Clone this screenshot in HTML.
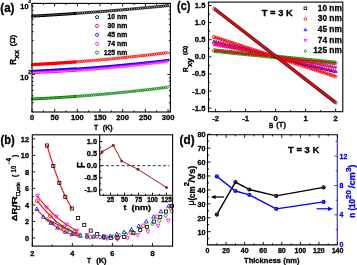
<!DOCTYPE html>
<html><head><meta charset="utf-8"><style>
html,body{margin:0;padding:0;background:#fff;width:357px;height:265px;overflow:hidden;}
svg{display:block;will-change:transform;}
</style></head><body>
<svg width="357" height="265" viewBox="0 0 357 265" font-family='"Liberation Sans", sans-serif'>
<rect width="357" height="265" fill="#fff"/>
<path d="M32.6 16.13 L33.1 16.1 L33.6 16.08 L34.1 16.05 L34.6 16.02 L35.1 15.99 L35.6 15.96 L36.1 15.93 L36.6 15.91 L37.1 15.88 L37.6 15.85 L38.1 15.82 L38.6 15.79 L39.1 15.76 L39.6 15.73 L40.1 15.7 L40.6 15.67 L41.1 15.65 L41.6 15.62 L42.1 15.59 L42.6 15.56 L43.1 15.53 L43.6 15.5 L44.1 15.47 L44.6 15.44 L45.1 15.41 L45.6 15.38 L46.1 15.35 L46.6 15.32 L47.1 15.29 L47.6 15.26 L48.1 15.23 L48.6 15.2 L49.1 15.17 L49.6 15.14 L50.1 15.11 L50.6 15.07 L51.1 15.04 L51.6 15.01 L52.1 14.98 L52.6 14.95 L53.1 14.92 L53.6 14.89 L54.1 14.86 L54.6 14.83 L55.1 14.79 L55.6 14.76 L56.1 14.73 L56.6 14.7 L57.1 14.67 L57.6 14.64 L58.1 14.6 L58.6 14.57 L59.1 14.54 L59.6 14.51 L60.1 14.47 L60.6 14.44 L61.1 14.41 L61.6 14.38 L62.1 14.34 L62.6 14.31 L63.1 14.28 L63.6 14.25 L64.1 14.21 L64.6 14.18 L65.1 14.15 L65.6 14.11 L66.1 14.08 L66.6 14.05 L67.1 14.01 L67.6 13.98 L68.1 13.95 L68.6 13.91 L69.1 13.88 L69.6 13.85 L70.1 13.81 L70.6 13.78 L71.1 13.74 L71.6 13.71 L72.1 13.68 L72.6 13.64 L73.1 13.61 L73.6 13.57 L74.1 13.54 L74.6 13.5 L75.1 13.47" fill="none" stroke="#000" stroke-width="2.9" stroke-linejoin="round" stroke-linecap="round"/>
<path d="M32.6 16.13 L33.1 16.1 L33.6 16.08 L34.1 16.05 L34.6 16.02 L35.1 15.99 L35.6 15.96 L36.1 15.93 L36.6 15.91 L37.1 15.88 L37.6 15.85 L38.1 15.82 L38.6 15.79 L39.1 15.76 L39.6 15.73 L40.1 15.7 L40.6 15.67 L41.1 15.65 L41.6 15.62 L42.1 15.59 L42.6 15.56 L43.1 15.53 L43.6 15.5 L44.1 15.47 L44.6 15.44 L45.1 15.41 L45.6 15.38 L46.1 15.35 L46.6 15.32 L47.1 15.29 L47.6 15.26 L48.1 15.23 L48.6 15.2 L49.1 15.17 L49.6 15.14 L50.1 15.11 L50.6 15.07 L51.1 15.04 L51.6 15.01 L52.1 14.98 L52.6 14.95 L53.1 14.92 L53.6 14.89 L54.1 14.86 L54.6 14.83 L55.1 14.79 L55.6 14.76 L56.1 14.73 L56.6 14.7 L57.1 14.67 L57.6 14.64 L58.1 14.6 L58.6 14.57 L59.1 14.54 L59.6 14.51 L60.1 14.47 L60.6 14.44 L61.1 14.41 L61.6 14.38 L62.1 14.34 L62.6 14.31 L63.1 14.28 L63.6 14.25 L64.1 14.21 L64.6 14.18 L65.1 14.15 L65.6 14.11 L66.1 14.08 L66.6 14.05 L67.1 14.01 L67.6 13.98 L68.1 13.95 L68.6 13.91 L69.1 13.88 L69.6 13.85 L70.1 13.81 L70.6 13.78 L71.1 13.74 L71.6 13.71 L72.1 13.68 L72.6 13.64 L73.1 13.61 L73.6 13.57 L74.1 13.54 L74.6 13.5 L75.1 13.47" fill="none" stroke="#777" stroke-width="0.7" stroke-linejoin="round" stroke-linecap="round"/>
<circle cx="75.5" cy="13.44" r="1.15" fill="none" stroke="#000" stroke-width="0.8"/>
<circle cx="77.3" cy="13.31" r="1.15" fill="none" stroke="#000" stroke-width="0.8"/>
<circle cx="79.1" cy="13.19" r="1.15" fill="none" stroke="#000" stroke-width="0.8"/>
<circle cx="80.9" cy="13.06" r="1.15" fill="none" stroke="#000" stroke-width="0.8"/>
<circle cx="82.7" cy="12.93" r="1.15" fill="none" stroke="#000" stroke-width="0.8"/>
<circle cx="84.5" cy="12.8" r="1.15" fill="none" stroke="#000" stroke-width="0.8"/>
<circle cx="86.3" cy="12.67" r="1.15" fill="none" stroke="#000" stroke-width="0.8"/>
<circle cx="88.1" cy="12.54" r="1.15" fill="none" stroke="#000" stroke-width="0.8"/>
<circle cx="89.9" cy="12.4" r="1.15" fill="none" stroke="#000" stroke-width="0.8"/>
<circle cx="91.7" cy="12.27" r="1.15" fill="none" stroke="#000" stroke-width="0.8"/>
<circle cx="93.5" cy="12.13" r="1.15" fill="none" stroke="#000" stroke-width="0.8"/>
<circle cx="95.3" cy="12" r="1.15" fill="none" stroke="#000" stroke-width="0.8"/>
<circle cx="97.1" cy="11.86" r="1.15" fill="none" stroke="#000" stroke-width="0.8"/>
<circle cx="98.9" cy="11.72" r="1.15" fill="none" stroke="#000" stroke-width="0.8"/>
<circle cx="100.7" cy="11.58" r="1.15" fill="none" stroke="#000" stroke-width="0.8"/>
<circle cx="102.5" cy="11.44" r="1.15" fill="none" stroke="#000" stroke-width="0.8"/>
<circle cx="104.3" cy="11.3" r="1.15" fill="none" stroke="#000" stroke-width="0.8"/>
<circle cx="106.1" cy="11.16" r="1.15" fill="none" stroke="#000" stroke-width="0.8"/>
<circle cx="107.9" cy="11.01" r="1.15" fill="none" stroke="#000" stroke-width="0.8"/>
<circle cx="109.7" cy="10.87" r="1.15" fill="none" stroke="#000" stroke-width="0.8"/>
<circle cx="111.5" cy="10.72" r="1.15" fill="none" stroke="#000" stroke-width="0.8"/>
<circle cx="113.3" cy="10.57" r="1.15" fill="none" stroke="#000" stroke-width="0.8"/>
<circle cx="115.1" cy="10.43" r="1.15" fill="none" stroke="#000" stroke-width="0.8"/>
<circle cx="116.9" cy="10.28" r="1.15" fill="none" stroke="#000" stroke-width="0.8"/>
<circle cx="118.7" cy="10.13" r="1.15" fill="none" stroke="#000" stroke-width="0.8"/>
<circle cx="120.5" cy="9.98" r="1.15" fill="none" stroke="#000" stroke-width="0.8"/>
<circle cx="122.3" cy="9.82" r="1.15" fill="none" stroke="#000" stroke-width="0.8"/>
<circle cx="124.1" cy="9.67" r="1.15" fill="none" stroke="#000" stroke-width="0.8"/>
<circle cx="125.9" cy="9.52" r="1.15" fill="none" stroke="#000" stroke-width="0.8"/>
<circle cx="127.7" cy="9.36" r="1.15" fill="none" stroke="#000" stroke-width="0.8"/>
<circle cx="129.5" cy="9.2" r="1.15" fill="none" stroke="#000" stroke-width="0.8"/>
<circle cx="131.3" cy="9.05" r="1.15" fill="none" stroke="#000" stroke-width="0.8"/>
<circle cx="133.1" cy="8.89" r="1.15" fill="none" stroke="#000" stroke-width="0.8"/>
<circle cx="134.9" cy="8.73" r="1.15" fill="none" stroke="#000" stroke-width="0.8"/>
<circle cx="136.7" cy="8.57" r="1.15" fill="none" stroke="#000" stroke-width="0.8"/>
<circle cx="138.5" cy="8.41" r="1.15" fill="none" stroke="#000" stroke-width="0.8"/>
<circle cx="140.3" cy="8.24" r="1.15" fill="none" stroke="#000" stroke-width="0.8"/>
<circle cx="142.1" cy="8.08" r="1.15" fill="none" stroke="#000" stroke-width="0.8"/>
<circle cx="143.9" cy="7.92" r="1.15" fill="none" stroke="#000" stroke-width="0.8"/>
<circle cx="145.7" cy="7.75" r="1.15" fill="none" stroke="#000" stroke-width="0.8"/>
<circle cx="147.5" cy="7.58" r="1.15" fill="none" stroke="#000" stroke-width="0.8"/>
<circle cx="149.3" cy="7.42" r="1.15" fill="none" stroke="#000" stroke-width="0.8"/>
<circle cx="151.1" cy="7.25" r="1.15" fill="none" stroke="#000" stroke-width="0.8"/>
<circle cx="152.9" cy="7.08" r="1.15" fill="none" stroke="#000" stroke-width="0.8"/>
<circle cx="154.7" cy="6.9" r="1.15" fill="none" stroke="#000" stroke-width="0.8"/>
<circle cx="156.5" cy="6.73" r="1.15" fill="none" stroke="#000" stroke-width="0.8"/>
<circle cx="158.3" cy="6.56" r="1.15" fill="none" stroke="#000" stroke-width="0.8"/>
<circle cx="160.1" cy="6.39" r="1.15" fill="none" stroke="#000" stroke-width="0.8"/>
<circle cx="161.9" cy="6.21" r="1.15" fill="none" stroke="#000" stroke-width="0.8"/>
<circle cx="163.7" cy="6.03" r="1.15" fill="none" stroke="#000" stroke-width="0.8"/>
<circle cx="165.5" cy="5.86" r="1.15" fill="none" stroke="#000" stroke-width="0.8"/>
<circle cx="167.3" cy="5.68" r="1.15" fill="none" stroke="#000" stroke-width="0.8"/>
<path d="M32.6 64.62 L33.1 64.59 L33.6 64.56 L34.1 64.54 L34.6 64.51 L35.1 64.49 L35.6 64.46 L36.1 64.43 L36.6 64.41 L37.1 64.38 L37.6 64.35 L38.1 64.33 L38.6 64.3 L39.1 64.27 L39.6 64.24 L40.1 64.22 L40.6 64.19 L41.1 64.16 L41.6 64.13 L42.1 64.11 L42.6 64.08 L43.1 64.05 L43.6 64.02 L44.1 63.99 L44.6 63.96 L45.1 63.93 L45.6 63.9 L46.1 63.88 L46.6 63.85 L47.1 63.82 L47.6 63.79 L48.1 63.76 L48.6 63.73 L49.1 63.7 L49.6 63.67 L50.1 63.64 L50.6 63.61 L51.1 63.58 L51.6 63.54 L52.1 63.51 L52.6 63.48 L53.1 63.45 L53.6 63.42 L54.1 63.39 L54.6 63.36 L55.1 63.33 L55.6 63.29 L56.1 63.26 L56.6 63.23 L57.1 63.2 L57.6 63.16 L58.1 63.13 L58.6 63.1 L59.1 63.07 L59.6 63.03 L60.1 63 L60.6 62.97 L61.1 62.93 L61.6 62.9 L62.1 62.87 L62.6 62.83 L63.1 62.8 L63.6 62.76 L64.1 62.73 L64.6 62.7 L65.1 62.66 L65.6 62.63 L66.1 62.59 L66.6 62.56 L67.1 62.52 L67.6 62.49 L68.1 62.45 L68.6 62.42 L69.1 62.38 L69.6 62.34 L70.1 62.31 L70.6 62.27 L71.1 62.24 L71.6 62.2 L72.1 62.16 L72.6 62.13 L73.1 62.09 L73.6 62.05 L74.1 62.02 L74.6 61.98 L75.1 61.94" fill="none" stroke="#ff0000" stroke-width="3.3" stroke-linejoin="round" stroke-linecap="round"/>
<circle cx="75.5" cy="61.91" r="1.15" fill="none" stroke="#ff0000" stroke-width="0.8"/>
<circle cx="77.3" cy="61.78" r="1.15" fill="none" stroke="#ff0000" stroke-width="0.8"/>
<circle cx="79.1" cy="61.64" r="1.15" fill="none" stroke="#ff0000" stroke-width="0.8"/>
<circle cx="80.9" cy="61.5" r="1.15" fill="none" stroke="#ff0000" stroke-width="0.8"/>
<circle cx="82.7" cy="61.36" r="1.15" fill="none" stroke="#ff0000" stroke-width="0.8"/>
<circle cx="84.5" cy="61.21" r="1.15" fill="none" stroke="#ff0000" stroke-width="0.8"/>
<circle cx="86.3" cy="61.07" r="1.15" fill="none" stroke="#ff0000" stroke-width="0.8"/>
<circle cx="88.1" cy="60.92" r="1.15" fill="none" stroke="#ff0000" stroke-width="0.8"/>
<circle cx="89.9" cy="60.78" r="1.15" fill="none" stroke="#ff0000" stroke-width="0.8"/>
<circle cx="91.7" cy="60.62" r="1.15" fill="none" stroke="#ff0000" stroke-width="0.8"/>
<circle cx="93.5" cy="60.47" r="1.15" fill="none" stroke="#ff0000" stroke-width="0.8"/>
<circle cx="95.3" cy="60.32" r="1.15" fill="none" stroke="#ff0000" stroke-width="0.8"/>
<circle cx="97.1" cy="60.16" r="1.15" fill="none" stroke="#ff0000" stroke-width="0.8"/>
<circle cx="98.9" cy="60.01" r="1.15" fill="none" stroke="#ff0000" stroke-width="0.8"/>
<circle cx="100.7" cy="59.85" r="1.15" fill="none" stroke="#ff0000" stroke-width="0.8"/>
<circle cx="102.5" cy="59.69" r="1.15" fill="none" stroke="#ff0000" stroke-width="0.8"/>
<circle cx="104.3" cy="59.52" r="1.15" fill="none" stroke="#ff0000" stroke-width="0.8"/>
<circle cx="106.1" cy="59.36" r="1.15" fill="none" stroke="#ff0000" stroke-width="0.8"/>
<circle cx="107.9" cy="59.19" r="1.15" fill="none" stroke="#ff0000" stroke-width="0.8"/>
<circle cx="109.7" cy="59.02" r="1.15" fill="none" stroke="#ff0000" stroke-width="0.8"/>
<circle cx="111.5" cy="58.85" r="1.15" fill="none" stroke="#ff0000" stroke-width="0.8"/>
<circle cx="113.3" cy="58.68" r="1.15" fill="none" stroke="#ff0000" stroke-width="0.8"/>
<circle cx="115.1" cy="58.51" r="1.15" fill="none" stroke="#ff0000" stroke-width="0.8"/>
<circle cx="116.9" cy="58.33" r="1.15" fill="none" stroke="#ff0000" stroke-width="0.8"/>
<circle cx="118.7" cy="58.16" r="1.15" fill="none" stroke="#ff0000" stroke-width="0.8"/>
<circle cx="120.5" cy="57.98" r="1.15" fill="none" stroke="#ff0000" stroke-width="0.8"/>
<circle cx="122.3" cy="57.8" r="1.15" fill="none" stroke="#ff0000" stroke-width="0.8"/>
<circle cx="124.1" cy="57.61" r="1.15" fill="none" stroke="#ff0000" stroke-width="0.8"/>
<circle cx="125.9" cy="57.43" r="1.15" fill="none" stroke="#ff0000" stroke-width="0.8"/>
<circle cx="127.7" cy="57.24" r="1.15" fill="none" stroke="#ff0000" stroke-width="0.8"/>
<circle cx="129.5" cy="57.05" r="1.15" fill="none" stroke="#ff0000" stroke-width="0.8"/>
<circle cx="131.3" cy="56.86" r="1.15" fill="none" stroke="#ff0000" stroke-width="0.8"/>
<circle cx="133.1" cy="56.67" r="1.15" fill="none" stroke="#ff0000" stroke-width="0.8"/>
<circle cx="134.9" cy="56.48" r="1.15" fill="none" stroke="#ff0000" stroke-width="0.8"/>
<circle cx="136.7" cy="56.28" r="1.15" fill="none" stroke="#ff0000" stroke-width="0.8"/>
<circle cx="138.5" cy="56.09" r="1.15" fill="none" stroke="#ff0000" stroke-width="0.8"/>
<circle cx="140.3" cy="55.89" r="1.15" fill="none" stroke="#ff0000" stroke-width="0.8"/>
<circle cx="142.1" cy="55.69" r="1.15" fill="none" stroke="#ff0000" stroke-width="0.8"/>
<circle cx="143.9" cy="55.49" r="1.15" fill="none" stroke="#ff0000" stroke-width="0.8"/>
<circle cx="145.7" cy="55.28" r="1.15" fill="none" stroke="#ff0000" stroke-width="0.8"/>
<circle cx="147.5" cy="55.08" r="1.15" fill="none" stroke="#ff0000" stroke-width="0.8"/>
<circle cx="149.3" cy="54.87" r="1.15" fill="none" stroke="#ff0000" stroke-width="0.8"/>
<circle cx="151.1" cy="54.66" r="1.15" fill="none" stroke="#ff0000" stroke-width="0.8"/>
<circle cx="152.9" cy="54.45" r="1.15" fill="none" stroke="#ff0000" stroke-width="0.8"/>
<circle cx="154.7" cy="54.23" r="1.15" fill="none" stroke="#ff0000" stroke-width="0.8"/>
<circle cx="156.5" cy="54.02" r="1.15" fill="none" stroke="#ff0000" stroke-width="0.8"/>
<circle cx="158.3" cy="53.8" r="1.15" fill="none" stroke="#ff0000" stroke-width="0.8"/>
<circle cx="160.1" cy="53.58" r="1.15" fill="none" stroke="#ff0000" stroke-width="0.8"/>
<circle cx="161.9" cy="53.36" r="1.15" fill="none" stroke="#ff0000" stroke-width="0.8"/>
<circle cx="163.7" cy="53.14" r="1.15" fill="none" stroke="#ff0000" stroke-width="0.8"/>
<circle cx="165.5" cy="52.92" r="1.15" fill="none" stroke="#ff0000" stroke-width="0.8"/>
<circle cx="167.3" cy="52.69" r="1.15" fill="none" stroke="#ff0000" stroke-width="0.8"/>
<path d="M32.6 71.26 L33.1 71.23 L33.6 71.21 L34.1 71.18 L34.6 71.16 L35.1 71.14 L35.6 71.11 L36.1 71.09 L36.6 71.06 L37.1 71.04 L37.6 71.01 L38.1 70.99 L38.6 70.96 L39.1 70.94 L39.6 70.91 L40.1 70.89 L40.6 70.86 L41.1 70.83 L41.6 70.81 L42.1 70.78 L42.6 70.76 L43.1 70.73 L43.6 70.7 L44.1 70.68 L44.6 70.65 L45.1 70.62 L45.6 70.6 L46.1 70.57 L46.6 70.54 L47.1 70.51 L47.6 70.49 L48.1 70.46 L48.6 70.43 L49.1 70.4 L49.6 70.37 L50.1 70.35 L50.6 70.32 L51.1 70.29 L51.6 70.26 L52.1 70.23 L52.6 70.2 L53.1 70.17 L53.6 70.14 L54.1 70.12 L54.6 70.09 L55.1 70.06 L55.6 70.03 L56.1 70 L56.6 69.97 L57.1 69.94 L57.6 69.91 L58.1 69.88 L58.6 69.85 L59.1 69.82 L59.6 69.79 L60.1 69.75 L60.6 69.72 L61.1 69.69 L61.6 69.66 L62.1 69.63 L62.6 69.6 L63.1 69.57 L63.6 69.53 L64.1 69.5 L64.6 69.47 L65.1 69.44 L65.6 69.41 L66.1 69.37 L66.6 69.34 L67.1 69.31 L67.6 69.28 L68.1 69.24 L68.6 69.21 L69.1 69.18 L69.6 69.14 L70.1 69.11 L70.6 69.08 L71.1 69.04 L71.6 69.01 L72.1 68.97 L72.6 68.94 L73.1 68.91 L73.6 68.87 L74.1 68.84 L74.6 68.8 L75.1 68.77" fill="none" stroke="#0000ff" stroke-width="2.9" stroke-linejoin="round" stroke-linecap="round"/>
<path d="M75 68.78 L75.5 68.74 L76 68.71 L76.5 68.67 L77 68.63 L77.5 68.6 L78 68.56 L78.5 68.53 L79 68.49 L79.5 68.46 L80 68.42 L80.5 68.38 L81 68.35 L81.5 68.31 L82 68.27 L82.5 68.24 L83 68.2 L83.5 68.16 L84 68.13 L84.5 68.09 L85 68.05 L85.5 68.02 L86 67.98 L86.5 67.94 L87 67.9 L87.5 67.86 L88 67.83 L88.5 67.79 L89 67.75 L89.5 67.71 L90 67.67 L90.5 67.63 L91 67.59 L91.5 67.56 L92 67.52 L92.5 67.48 L93 67.44 L93.5 67.4 L94 67.36 L94.5 67.32 L95 67.28 L95.5 67.24 L96 67.2 L96.5 67.16 L97 67.12 L97.5 67.08 L98 67.04 L98.5 66.99 L99 66.95 L99.5 66.91 L100 66.87 L100.5 66.83 L101 66.79 L101.5 66.75 L102 66.7 L102.5 66.66 L103 66.62 L103.5 66.58 L104 66.54 L104.5 66.49 L105 66.45 L105.5 66.41 L106 66.37 L106.5 66.32 L107 66.28 L107.5 66.24 L108 66.19 L108.5 66.15 L109 66.11 L109.5 66.06 L110 66.02 L110.5 65.97 L111 65.93 L111.5 65.88 L112 65.84 L112.5 65.8 L113 65.75 L113.5 65.71 L114 65.66 L114.5 65.62 L115 65.57 L115.5 65.53 L116 65.48 L116.5 65.43 L117 65.39 L117.5 65.34 L118 65.3 L118.5 65.25 L119 65.2 L119.5 65.16 L120 65.11 L120.5 65.06 L121 65.02 L121.5 64.97 L122 64.92 L122.5 64.88 L123 64.83 L123.5 64.78 L124 64.73 L124.5 64.69 L125 64.64 L125.5 64.59 L126 64.54 L126.5 64.49 L127 64.45 L127.5 64.4 L128 64.35 L128.5 64.3 L129 64.25 L129.5 64.2 L130 64.15 L130.5 64.1 L131 64.05 L131.5 64 L132 63.96 L132.5 63.91 L133 63.86 L133.5 63.81 L134 63.76 L134.5 63.7 L135 63.65 L135.5 63.6 L136 63.55 L136.5 63.5 L137 63.45 L137.5 63.4 L138 63.35 L138.5 63.3 L139 63.25 L139.5 63.19 L140 63.14 L140.5 63.09 L141 63.04 L141.5 62.99 L142 62.93 L142.5 62.88 L143 62.83 L143.5 62.78 L144 62.72 L144.5 62.67 L145 62.62 L145.5 62.56 L146 62.51 L146.5 62.46 L147 62.4 L147.5 62.35 L148 62.3 L148.5 62.24 L149 62.19 L149.5 62.13 L150 62.08 L150.5 62.02 L151 61.97 L151.5 61.92 L152 61.86 L152.5 61.81 L153 61.75 L153.5 61.69 L154 61.64 L154.5 61.58 L155 61.53 L155.5 61.47 L156 61.42 L156.5 61.36 L157 61.3 L157.5 61.25 L158 61.19 L158.5 61.13 L159 61.08 L159.5 61.02 L160 60.96 L160.5 60.91 L161 60.85 L161.5 60.79 L162 60.73 L162.5 60.68 L163 60.62 L163.5 60.56 L164 60.5 L164.5 60.44 L165 60.39 L165.5 60.33 L166 60.27 L166.5 60.21 L167 60.15 L167.5 60.09 L168 60.03 L168.5 59.97" fill="none" stroke="#0000ff" stroke-width="2.2" stroke-linejoin="round" stroke-linecap="round"/>
<path d="M32.6 72.68 L33.1 72.66 L33.6 72.64 L34.1 72.62 L34.6 72.6 L35.1 72.58 L35.6 72.56 L36.1 72.54 L36.6 72.52 L37.1 72.49 L37.6 72.47 L38.1 72.45 L38.6 72.43 L39.1 72.41 L39.6 72.38 L40.1 72.36 L40.6 72.34 L41.1 72.31 L41.6 72.29 L42.1 72.27 L42.6 72.24 L43.1 72.22 L43.6 72.2 L44.1 72.17 L44.6 72.15 L45.1 72.12 L45.6 72.1 L46.1 72.08 L46.6 72.05 L47.1 72.03 L47.6 72 L48.1 71.98 L48.6 71.95 L49.1 71.92 L49.6 71.9 L50.1 71.87 L50.6 71.85 L51.1 71.82 L51.6 71.79 L52.1 71.77 L52.6 71.74 L53.1 71.71 L53.6 71.69 L54.1 71.66 L54.6 71.63 L55.1 71.61 L55.6 71.58 L56.1 71.55 L56.6 71.52 L57.1 71.49 L57.6 71.47 L58.1 71.44 L58.6 71.41 L59.1 71.38 L59.6 71.35 L60.1 71.32 L60.6 71.29 L61.1 71.26 L61.6 71.23 L62.1 71.2 L62.6 71.17 L63.1 71.14 L63.6 71.11 L64.1 71.08 L64.6 71.05 L65.1 71.02 L65.6 70.99 L66.1 70.96 L66.6 70.93 L67.1 70.9 L67.6 70.87 L68.1 70.83 L68.6 70.8 L69.1 70.77 L69.6 70.74 L70.1 70.71 L70.6 70.67 L71.1 70.64 L71.6 70.61 L72.1 70.58 L72.6 70.54 L73.1 70.51 L73.6 70.48 L74.1 70.44 L74.6 70.41 L75.1 70.37" fill="none" stroke="#ff00ff" stroke-width="2.8" stroke-linejoin="round" stroke-linecap="round"/>
<circle cx="33.2" cy="72.66" r="0.55" fill="#fff" opacity="0.8"/>
<circle cx="34.95" cy="72.59" r="0.55" fill="#fff" opacity="0.8"/>
<circle cx="36.7" cy="72.51" r="0.55" fill="#fff" opacity="0.8"/>
<circle cx="38.45" cy="72.43" r="0.55" fill="#fff" opacity="0.8"/>
<circle cx="40.2" cy="72.36" r="0.55" fill="#fff" opacity="0.8"/>
<circle cx="41.95" cy="72.28" r="0.55" fill="#fff" opacity="0.8"/>
<circle cx="43.7" cy="72.19" r="0.55" fill="#fff" opacity="0.8"/>
<circle cx="45.45" cy="72.11" r="0.55" fill="#fff" opacity="0.8"/>
<circle cx="47.2" cy="72.02" r="0.55" fill="#fff" opacity="0.8"/>
<circle cx="48.95" cy="71.93" r="0.55" fill="#fff" opacity="0.8"/>
<circle cx="50.7" cy="71.84" r="0.55" fill="#fff" opacity="0.8"/>
<circle cx="52.45" cy="71.75" r="0.55" fill="#fff" opacity="0.8"/>
<circle cx="54.2" cy="71.66" r="0.55" fill="#fff" opacity="0.8"/>
<circle cx="55.95" cy="71.56" r="0.55" fill="#fff" opacity="0.8"/>
<circle cx="57.7" cy="71.46" r="0.55" fill="#fff" opacity="0.8"/>
<circle cx="59.45" cy="71.36" r="0.55" fill="#fff" opacity="0.8"/>
<circle cx="61.2" cy="71.26" r="0.55" fill="#fff" opacity="0.8"/>
<circle cx="62.95" cy="71.15" r="0.55" fill="#fff" opacity="0.8"/>
<circle cx="64.7" cy="71.05" r="0.55" fill="#fff" opacity="0.8"/>
<circle cx="66.45" cy="70.94" r="0.55" fill="#fff" opacity="0.8"/>
<circle cx="68.2" cy="70.83" r="0.55" fill="#fff" opacity="0.8"/>
<circle cx="69.95" cy="70.72" r="0.55" fill="#fff" opacity="0.8"/>
<circle cx="71.7" cy="70.6" r="0.55" fill="#fff" opacity="0.8"/>
<circle cx="73.45" cy="70.49" r="0.55" fill="#fff" opacity="0.8"/>
<circle cx="75.2" cy="70.37" r="0.55" fill="#fff" opacity="0.8"/>
<circle cx="75.5" cy="70.35" r="1.15" fill="none" stroke="#ff00ff" stroke-width="0.8"/>
<circle cx="77.3" cy="70.22" r="1.15" fill="none" stroke="#ff00ff" stroke-width="0.8"/>
<circle cx="79.1" cy="70.1" r="1.15" fill="none" stroke="#ff00ff" stroke-width="0.8"/>
<circle cx="80.9" cy="69.97" r="1.15" fill="none" stroke="#ff00ff" stroke-width="0.8"/>
<circle cx="82.7" cy="69.84" r="1.15" fill="none" stroke="#ff00ff" stroke-width="0.8"/>
<circle cx="84.5" cy="69.71" r="1.15" fill="none" stroke="#ff00ff" stroke-width="0.8"/>
<circle cx="86.3" cy="69.57" r="1.15" fill="none" stroke="#ff00ff" stroke-width="0.8"/>
<circle cx="88.1" cy="69.43" r="1.15" fill="none" stroke="#ff00ff" stroke-width="0.8"/>
<circle cx="89.9" cy="69.3" r="1.15" fill="none" stroke="#ff00ff" stroke-width="0.8"/>
<circle cx="91.7" cy="69.16" r="1.15" fill="none" stroke="#ff00ff" stroke-width="0.8"/>
<circle cx="93.5" cy="69.01" r="1.15" fill="none" stroke="#ff00ff" stroke-width="0.8"/>
<circle cx="95.3" cy="68.87" r="1.15" fill="none" stroke="#ff00ff" stroke-width="0.8"/>
<circle cx="97.1" cy="68.72" r="1.15" fill="none" stroke="#ff00ff" stroke-width="0.8"/>
<circle cx="98.9" cy="68.57" r="1.15" fill="none" stroke="#ff00ff" stroke-width="0.8"/>
<circle cx="100.7" cy="68.42" r="1.15" fill="none" stroke="#ff00ff" stroke-width="0.8"/>
<circle cx="102.5" cy="68.27" r="1.15" fill="none" stroke="#ff00ff" stroke-width="0.8"/>
<circle cx="104.3" cy="68.11" r="1.15" fill="none" stroke="#ff00ff" stroke-width="0.8"/>
<circle cx="106.1" cy="67.95" r="1.15" fill="none" stroke="#ff00ff" stroke-width="0.8"/>
<circle cx="107.9" cy="67.8" r="1.15" fill="none" stroke="#ff00ff" stroke-width="0.8"/>
<circle cx="109.7" cy="67.63" r="1.15" fill="none" stroke="#ff00ff" stroke-width="0.8"/>
<circle cx="111.5" cy="67.47" r="1.15" fill="none" stroke="#ff00ff" stroke-width="0.8"/>
<circle cx="113.3" cy="67.3" r="1.15" fill="none" stroke="#ff00ff" stroke-width="0.8"/>
<circle cx="115.1" cy="67.14" r="1.15" fill="none" stroke="#ff00ff" stroke-width="0.8"/>
<circle cx="116.9" cy="66.97" r="1.15" fill="none" stroke="#ff00ff" stroke-width="0.8"/>
<circle cx="118.7" cy="66.79" r="1.15" fill="none" stroke="#ff00ff" stroke-width="0.8"/>
<circle cx="120.5" cy="66.62" r="1.15" fill="none" stroke="#ff00ff" stroke-width="0.8"/>
<circle cx="122.3" cy="66.44" r="1.15" fill="none" stroke="#ff00ff" stroke-width="0.8"/>
<circle cx="124.1" cy="66.27" r="1.15" fill="none" stroke="#ff00ff" stroke-width="0.8"/>
<circle cx="125.9" cy="66.09" r="1.15" fill="none" stroke="#ff00ff" stroke-width="0.8"/>
<circle cx="127.7" cy="65.9" r="1.15" fill="none" stroke="#ff00ff" stroke-width="0.8"/>
<circle cx="129.5" cy="65.72" r="1.15" fill="none" stroke="#ff00ff" stroke-width="0.8"/>
<circle cx="131.3" cy="65.53" r="1.15" fill="none" stroke="#ff00ff" stroke-width="0.8"/>
<circle cx="133.1" cy="65.34" r="1.15" fill="none" stroke="#ff00ff" stroke-width="0.8"/>
<circle cx="134.9" cy="65.15" r="1.15" fill="none" stroke="#ff00ff" stroke-width="0.8"/>
<circle cx="136.7" cy="64.96" r="1.15" fill="none" stroke="#ff00ff" stroke-width="0.8"/>
<circle cx="138.5" cy="64.76" r="1.15" fill="none" stroke="#ff00ff" stroke-width="0.8"/>
<circle cx="140.3" cy="64.57" r="1.15" fill="none" stroke="#ff00ff" stroke-width="0.8"/>
<circle cx="142.1" cy="64.37" r="1.15" fill="none" stroke="#ff00ff" stroke-width="0.8"/>
<circle cx="143.9" cy="64.17" r="1.15" fill="none" stroke="#ff00ff" stroke-width="0.8"/>
<circle cx="145.7" cy="63.96" r="1.15" fill="none" stroke="#ff00ff" stroke-width="0.8"/>
<circle cx="147.5" cy="63.76" r="1.15" fill="none" stroke="#ff00ff" stroke-width="0.8"/>
<circle cx="149.3" cy="63.55" r="1.15" fill="none" stroke="#ff00ff" stroke-width="0.8"/>
<circle cx="151.1" cy="63.34" r="1.15" fill="none" stroke="#ff00ff" stroke-width="0.8"/>
<circle cx="152.9" cy="63.13" r="1.15" fill="none" stroke="#ff00ff" stroke-width="0.8"/>
<circle cx="154.7" cy="62.91" r="1.15" fill="none" stroke="#ff00ff" stroke-width="0.8"/>
<circle cx="156.5" cy="62.7" r="1.15" fill="none" stroke="#ff00ff" stroke-width="0.8"/>
<circle cx="158.3" cy="62.48" r="1.15" fill="none" stroke="#ff00ff" stroke-width="0.8"/>
<circle cx="160.1" cy="62.26" r="1.15" fill="none" stroke="#ff00ff" stroke-width="0.8"/>
<circle cx="161.9" cy="62.04" r="1.15" fill="none" stroke="#ff00ff" stroke-width="0.8"/>
<circle cx="163.7" cy="61.81" r="1.15" fill="none" stroke="#ff00ff" stroke-width="0.8"/>
<circle cx="165.5" cy="61.59" r="1.15" fill="none" stroke="#ff00ff" stroke-width="0.8"/>
<circle cx="167.3" cy="61.36" r="1.15" fill="none" stroke="#ff00ff" stroke-width="0.8"/>
<path d="M32.6 98.97 L33.1 98.95 L33.6 98.92 L34.1 98.9 L34.6 98.88 L35.1 98.85 L35.6 98.83 L36.1 98.8 L36.6 98.78 L37.1 98.75 L37.6 98.73 L38.1 98.7 L38.6 98.68 L39.1 98.65 L39.6 98.63 L40.1 98.6 L40.6 98.58 L41.1 98.55 L41.6 98.52 L42.1 98.5 L42.6 98.47 L43.1 98.45 L43.6 98.42 L44.1 98.39 L44.6 98.36 L45.1 98.34 L45.6 98.31 L46.1 98.28 L46.6 98.26 L47.1 98.23 L47.6 98.2 L48.1 98.17 L48.6 98.14 L49.1 98.12 L49.6 98.09 L50.1 98.06 L50.6 98.03 L51.1 98 L51.6 97.97 L52.1 97.94 L52.6 97.91 L53.1 97.88 L53.6 97.85 L54.1 97.82 L54.6 97.79 L55.1 97.76 L55.6 97.73 L56.1 97.7 L56.6 97.67 L57.1 97.64 L57.6 97.61 L58.1 97.58 L58.6 97.55 L59.1 97.52 L59.6 97.49 L60.1 97.45 L60.6 97.42 L61.1 97.39 L61.6 97.36 L62.1 97.33 L62.6 97.29 L63.1 97.26 L63.6 97.23 L64.1 97.2 L64.6 97.16 L65.1 97.13 L65.6 97.1 L66.1 97.06 L66.6 97.03 L67.1 97 L67.6 96.96 L68.1 96.93 L68.6 96.9 L69.1 96.86 L69.6 96.83 L70.1 96.79 L70.6 96.76 L71.1 96.72 L71.6 96.69 L72.1 96.65 L72.6 96.62 L73.1 96.58 L73.6 96.55 L74.1 96.51 L74.6 96.48 L75.1 96.44" fill="none" stroke="#008000" stroke-width="2.9" stroke-linejoin="round" stroke-linecap="round"/>
<path d="M32.6 98.97 L33.1 98.95 L33.6 98.92 L34.1 98.9 L34.6 98.88 L35.1 98.85 L35.6 98.83 L36.1 98.8 L36.6 98.78 L37.1 98.75 L37.6 98.73 L38.1 98.7 L38.6 98.68 L39.1 98.65 L39.6 98.63 L40.1 98.6 L40.6 98.58 L41.1 98.55 L41.6 98.52 L42.1 98.5 L42.6 98.47 L43.1 98.45 L43.6 98.42 L44.1 98.39 L44.6 98.36 L45.1 98.34 L45.6 98.31 L46.1 98.28 L46.6 98.26 L47.1 98.23 L47.6 98.2 L48.1 98.17 L48.6 98.14 L49.1 98.12 L49.6 98.09 L50.1 98.06 L50.6 98.03 L51.1 98 L51.6 97.97 L52.1 97.94 L52.6 97.91 L53.1 97.88 L53.6 97.85 L54.1 97.82 L54.6 97.79 L55.1 97.76 L55.6 97.73 L56.1 97.7 L56.6 97.67 L57.1 97.64 L57.6 97.61 L58.1 97.58 L58.6 97.55 L59.1 97.52 L59.6 97.49 L60.1 97.45 L60.6 97.42 L61.1 97.39 L61.6 97.36 L62.1 97.33 L62.6 97.29 L63.1 97.26 L63.6 97.23 L64.1 97.2 L64.6 97.16 L65.1 97.13 L65.6 97.1 L66.1 97.06 L66.6 97.03 L67.1 97 L67.6 96.96 L68.1 96.93 L68.6 96.9 L69.1 96.86 L69.6 96.83 L70.1 96.79 L70.6 96.76 L71.1 96.72 L71.6 96.69 L72.1 96.65 L72.6 96.62 L73.1 96.58 L73.6 96.55 L74.1 96.51 L74.6 96.48 L75.1 96.44" fill="none" stroke="#80c080" stroke-width="0.7" stroke-linejoin="round" stroke-linecap="round"/>
<circle cx="75.5" cy="96.41" r="1.15" fill="none" stroke="#008000" stroke-width="0.8"/>
<circle cx="77.3" cy="96.28" r="1.15" fill="none" stroke="#008000" stroke-width="0.8"/>
<circle cx="79.1" cy="96.15" r="1.15" fill="none" stroke="#008000" stroke-width="0.8"/>
<circle cx="80.9" cy="96.01" r="1.15" fill="none" stroke="#008000" stroke-width="0.8"/>
<circle cx="82.7" cy="95.87" r="1.15" fill="none" stroke="#008000" stroke-width="0.8"/>
<circle cx="84.5" cy="95.74" r="1.15" fill="none" stroke="#008000" stroke-width="0.8"/>
<circle cx="86.3" cy="95.6" r="1.15" fill="none" stroke="#008000" stroke-width="0.8"/>
<circle cx="88.1" cy="95.45" r="1.15" fill="none" stroke="#008000" stroke-width="0.8"/>
<circle cx="89.9" cy="95.31" r="1.15" fill="none" stroke="#008000" stroke-width="0.8"/>
<circle cx="91.7" cy="95.16" r="1.15" fill="none" stroke="#008000" stroke-width="0.8"/>
<circle cx="93.5" cy="95.01" r="1.15" fill="none" stroke="#008000" stroke-width="0.8"/>
<circle cx="95.3" cy="94.86" r="1.15" fill="none" stroke="#008000" stroke-width="0.8"/>
<circle cx="97.1" cy="94.71" r="1.15" fill="none" stroke="#008000" stroke-width="0.8"/>
<circle cx="98.9" cy="94.56" r="1.15" fill="none" stroke="#008000" stroke-width="0.8"/>
<circle cx="100.7" cy="94.4" r="1.15" fill="none" stroke="#008000" stroke-width="0.8"/>
<circle cx="102.5" cy="94.24" r="1.15" fill="none" stroke="#008000" stroke-width="0.8"/>
<circle cx="104.3" cy="94.08" r="1.15" fill="none" stroke="#008000" stroke-width="0.8"/>
<circle cx="106.1" cy="93.92" r="1.15" fill="none" stroke="#008000" stroke-width="0.8"/>
<circle cx="107.9" cy="93.76" r="1.15" fill="none" stroke="#008000" stroke-width="0.8"/>
<circle cx="109.7" cy="93.59" r="1.15" fill="none" stroke="#008000" stroke-width="0.8"/>
<circle cx="111.5" cy="93.43" r="1.15" fill="none" stroke="#008000" stroke-width="0.8"/>
<circle cx="113.3" cy="93.26" r="1.15" fill="none" stroke="#008000" stroke-width="0.8"/>
<circle cx="115.1" cy="93.08" r="1.15" fill="none" stroke="#008000" stroke-width="0.8"/>
<circle cx="116.9" cy="92.91" r="1.15" fill="none" stroke="#008000" stroke-width="0.8"/>
<circle cx="118.7" cy="92.74" r="1.15" fill="none" stroke="#008000" stroke-width="0.8"/>
<circle cx="120.5" cy="92.56" r="1.15" fill="none" stroke="#008000" stroke-width="0.8"/>
<circle cx="122.3" cy="92.38" r="1.15" fill="none" stroke="#008000" stroke-width="0.8"/>
<circle cx="124.1" cy="92.2" r="1.15" fill="none" stroke="#008000" stroke-width="0.8"/>
<circle cx="125.9" cy="92.02" r="1.15" fill="none" stroke="#008000" stroke-width="0.8"/>
<circle cx="127.7" cy="91.83" r="1.15" fill="none" stroke="#008000" stroke-width="0.8"/>
<circle cx="129.5" cy="91.65" r="1.15" fill="none" stroke="#008000" stroke-width="0.8"/>
<circle cx="131.3" cy="91.46" r="1.15" fill="none" stroke="#008000" stroke-width="0.8"/>
<circle cx="133.1" cy="91.27" r="1.15" fill="none" stroke="#008000" stroke-width="0.8"/>
<circle cx="134.9" cy="91.08" r="1.15" fill="none" stroke="#008000" stroke-width="0.8"/>
<circle cx="136.7" cy="90.88" r="1.15" fill="none" stroke="#008000" stroke-width="0.8"/>
<circle cx="138.5" cy="90.68" r="1.15" fill="none" stroke="#008000" stroke-width="0.8"/>
<circle cx="140.3" cy="90.49" r="1.15" fill="none" stroke="#008000" stroke-width="0.8"/>
<circle cx="142.1" cy="90.29" r="1.15" fill="none" stroke="#008000" stroke-width="0.8"/>
<circle cx="143.9" cy="90.09" r="1.15" fill="none" stroke="#008000" stroke-width="0.8"/>
<circle cx="145.7" cy="89.88" r="1.15" fill="none" stroke="#008000" stroke-width="0.8"/>
<circle cx="147.5" cy="89.68" r="1.15" fill="none" stroke="#008000" stroke-width="0.8"/>
<circle cx="149.3" cy="89.47" r="1.15" fill="none" stroke="#008000" stroke-width="0.8"/>
<circle cx="151.1" cy="89.26" r="1.15" fill="none" stroke="#008000" stroke-width="0.8"/>
<circle cx="152.9" cy="89.05" r="1.15" fill="none" stroke="#008000" stroke-width="0.8"/>
<circle cx="154.7" cy="88.83" r="1.15" fill="none" stroke="#008000" stroke-width="0.8"/>
<circle cx="156.5" cy="88.62" r="1.15" fill="none" stroke="#008000" stroke-width="0.8"/>
<circle cx="158.3" cy="88.4" r="1.15" fill="none" stroke="#008000" stroke-width="0.8"/>
<circle cx="160.1" cy="88.18" r="1.15" fill="none" stroke="#008000" stroke-width="0.8"/>
<circle cx="161.9" cy="87.96" r="1.15" fill="none" stroke="#008000" stroke-width="0.8"/>
<circle cx="163.7" cy="87.74" r="1.15" fill="none" stroke="#008000" stroke-width="0.8"/>
<circle cx="165.5" cy="87.52" r="1.15" fill="none" stroke="#008000" stroke-width="0.8"/>
<circle cx="167.3" cy="87.29" r="1.15" fill="none" stroke="#008000" stroke-width="0.8"/>
<rect x="32" y="3.4" width="138.4" height="108.6" fill="none" stroke="#000" stroke-width="1.1"/>
<line x1="32" y1="112" x2="32" y2="109" stroke="#000" stroke-width="0.9"/>
<line x1="32" y1="3.4" x2="32" y2="6.4" stroke="#000" stroke-width="0.9"/>
<line x1="54.67" y1="112" x2="54.67" y2="109" stroke="#000" stroke-width="0.9"/>
<line x1="54.67" y1="3.4" x2="54.67" y2="6.4" stroke="#000" stroke-width="0.9"/>
<line x1="77.35" y1="112" x2="77.35" y2="109" stroke="#000" stroke-width="0.9"/>
<line x1="77.35" y1="3.4" x2="77.35" y2="6.4" stroke="#000" stroke-width="0.9"/>
<line x1="100.03" y1="112" x2="100.03" y2="109" stroke="#000" stroke-width="0.9"/>
<line x1="100.03" y1="3.4" x2="100.03" y2="6.4" stroke="#000" stroke-width="0.9"/>
<line x1="122.7" y1="112" x2="122.7" y2="109" stroke="#000" stroke-width="0.9"/>
<line x1="122.7" y1="3.4" x2="122.7" y2="6.4" stroke="#000" stroke-width="0.9"/>
<line x1="145.38" y1="112" x2="145.38" y2="109" stroke="#000" stroke-width="0.9"/>
<line x1="145.38" y1="3.4" x2="145.38" y2="6.4" stroke="#000" stroke-width="0.9"/>
<line x1="168.05" y1="112" x2="168.05" y2="109" stroke="#000" stroke-width="0.9"/>
<line x1="168.05" y1="3.4" x2="168.05" y2="6.4" stroke="#000" stroke-width="0.9"/>
<line x1="43.34" y1="112" x2="43.34" y2="110.4" stroke="#000" stroke-width="0.9"/>
<line x1="43.34" y1="3.4" x2="43.34" y2="5" stroke="#000" stroke-width="0.9"/>
<line x1="66.01" y1="112" x2="66.01" y2="110.4" stroke="#000" stroke-width="0.9"/>
<line x1="66.01" y1="3.4" x2="66.01" y2="5" stroke="#000" stroke-width="0.9"/>
<line x1="88.69" y1="112" x2="88.69" y2="110.4" stroke="#000" stroke-width="0.9"/>
<line x1="88.69" y1="3.4" x2="88.69" y2="5" stroke="#000" stroke-width="0.9"/>
<line x1="111.36" y1="112" x2="111.36" y2="110.4" stroke="#000" stroke-width="0.9"/>
<line x1="111.36" y1="3.4" x2="111.36" y2="5" stroke="#000" stroke-width="0.9"/>
<line x1="134.04" y1="112" x2="134.04" y2="110.4" stroke="#000" stroke-width="0.9"/>
<line x1="134.04" y1="3.4" x2="134.04" y2="5" stroke="#000" stroke-width="0.9"/>
<line x1="156.71" y1="112" x2="156.71" y2="110.4" stroke="#000" stroke-width="0.9"/>
<line x1="156.71" y1="3.4" x2="156.71" y2="5" stroke="#000" stroke-width="0.9"/>
<line x1="32" y1="74.5" x2="35" y2="74.5" stroke="#000" stroke-width="0.9"/>
<line x1="170.4" y1="74.5" x2="167.4" y2="74.5" stroke="#000" stroke-width="0.9"/>
<line x1="32" y1="3.4" x2="35" y2="3.4" stroke="#000" stroke-width="0.9"/>
<line x1="170.4" y1="3.4" x2="167.4" y2="3.4" stroke="#000" stroke-width="0.9"/>
<line x1="32" y1="111.68" x2="33.6" y2="111.68" stroke="#000" stroke-width="0.9"/>
<line x1="170.4" y1="111.68" x2="168.8" y2="111.68" stroke="#000" stroke-width="0.9"/>
<line x1="32" y1="102.79" x2="33.6" y2="102.79" stroke="#000" stroke-width="0.9"/>
<line x1="170.4" y1="102.79" x2="168.8" y2="102.79" stroke="#000" stroke-width="0.9"/>
<line x1="32" y1="95.9" x2="33.6" y2="95.9" stroke="#000" stroke-width="0.9"/>
<line x1="170.4" y1="95.9" x2="168.8" y2="95.9" stroke="#000" stroke-width="0.9"/>
<line x1="32" y1="90.27" x2="33.6" y2="90.27" stroke="#000" stroke-width="0.9"/>
<line x1="170.4" y1="90.27" x2="168.8" y2="90.27" stroke="#000" stroke-width="0.9"/>
<line x1="32" y1="85.51" x2="33.6" y2="85.51" stroke="#000" stroke-width="0.9"/>
<line x1="170.4" y1="85.51" x2="168.8" y2="85.51" stroke="#000" stroke-width="0.9"/>
<line x1="32" y1="81.39" x2="33.6" y2="81.39" stroke="#000" stroke-width="0.9"/>
<line x1="170.4" y1="81.39" x2="168.8" y2="81.39" stroke="#000" stroke-width="0.9"/>
<line x1="32" y1="77.75" x2="33.6" y2="77.75" stroke="#000" stroke-width="0.9"/>
<line x1="170.4" y1="77.75" x2="168.8" y2="77.75" stroke="#000" stroke-width="0.9"/>
<line x1="32" y1="53.1" x2="33.6" y2="53.1" stroke="#000" stroke-width="0.9"/>
<line x1="170.4" y1="53.1" x2="168.8" y2="53.1" stroke="#000" stroke-width="0.9"/>
<line x1="32" y1="40.58" x2="33.6" y2="40.58" stroke="#000" stroke-width="0.9"/>
<line x1="170.4" y1="40.58" x2="168.8" y2="40.58" stroke="#000" stroke-width="0.9"/>
<line x1="32" y1="31.69" x2="33.6" y2="31.69" stroke="#000" stroke-width="0.9"/>
<line x1="170.4" y1="31.69" x2="168.8" y2="31.69" stroke="#000" stroke-width="0.9"/>
<line x1="32" y1="24.8" x2="33.6" y2="24.8" stroke="#000" stroke-width="0.9"/>
<line x1="170.4" y1="24.8" x2="168.8" y2="24.8" stroke="#000" stroke-width="0.9"/>
<line x1="32" y1="19.17" x2="33.6" y2="19.17" stroke="#000" stroke-width="0.9"/>
<line x1="170.4" y1="19.17" x2="168.8" y2="19.17" stroke="#000" stroke-width="0.9"/>
<line x1="32" y1="14.41" x2="33.6" y2="14.41" stroke="#000" stroke-width="0.9"/>
<line x1="170.4" y1="14.41" x2="168.8" y2="14.41" stroke="#000" stroke-width="0.9"/>
<line x1="32" y1="10.29" x2="33.6" y2="10.29" stroke="#000" stroke-width="0.9"/>
<line x1="170.4" y1="10.29" x2="168.8" y2="10.29" stroke="#000" stroke-width="0.9"/>
<line x1="32" y1="6.65" x2="33.6" y2="6.65" stroke="#000" stroke-width="0.9"/>
<line x1="170.4" y1="6.65" x2="168.8" y2="6.65" stroke="#000" stroke-width="0.9"/>
<text x="32" y="120.3" font-size="7.6" text-anchor="middle" font-weight="bold" fill="#000" stroke="#000" stroke-width="0.3">0</text>
<text x="54.67" y="120.3" font-size="7.6" text-anchor="middle" font-weight="bold" fill="#000" stroke="#000" stroke-width="0.3">50</text>
<text x="77.35" y="120.3" font-size="7.6" text-anchor="middle" font-weight="bold" fill="#000" stroke="#000" stroke-width="0.3">100</text>
<text x="100.03" y="120.3" font-size="7.6" text-anchor="middle" font-weight="bold" fill="#000" stroke="#000" stroke-width="0.3">150</text>
<text x="122.7" y="120.3" font-size="7.6" text-anchor="middle" font-weight="bold" fill="#000" stroke="#000" stroke-width="0.3">200</text>
<text x="145.38" y="120.3" font-size="7.6" text-anchor="middle" font-weight="bold" fill="#000" stroke="#000" stroke-width="0.3">250</text>
<text x="168.05" y="120.3" font-size="7.6" text-anchor="middle" font-weight="bold" fill="#000" stroke="#000" stroke-width="0.3">300</text>
<text x="28.5" y="79.6" font-size="7.8" text-anchor="end" font-weight="bold" fill="#000" stroke="#000" stroke-width="0.3" textLength="8.2" lengthAdjust="spacingAndGlyphs">10</text>
<text x="28.3" y="73.9" font-size="4.8" text-anchor="start" font-weight="bold" fill="#000" stroke="#000" stroke-width="0.3">2</text>
<text x="28.5" y="8.6" font-size="7.8" text-anchor="end" font-weight="bold" fill="#000" stroke="#000" stroke-width="0.3" textLength="8.2" lengthAdjust="spacingAndGlyphs">10</text>
<text x="28.3" y="3.3" font-size="4.8" text-anchor="start" font-weight="bold" fill="#000" stroke="#000" stroke-width="0.3">3</text>
<text x="0.3" y="12" font-size="12.4" text-anchor="start" font-weight="bold" fill="#000" stroke="#000" stroke-width="0.3" textLength="14.2" lengthAdjust="spacingAndGlyphs">(a)</text>
<text x="94" y="129.7" font-size="7.6" text-anchor="start" font-weight="bold" fill="#000" stroke="#000" stroke-width="0.3" textLength="4.1" lengthAdjust="spacingAndGlyphs">T</text>
<text x="102.8" y="129.8" font-size="7.6" text-anchor="start" font-weight="bold" fill="#000" stroke="#000" stroke-width="0.3" textLength="9.8" lengthAdjust="spacingAndGlyphs">(K)</text>
<text transform="translate(15.6 64.7) rotate(-90)" font-size="8.4" font-weight="bold" fill="#000" text-anchor="start" stroke="#000" stroke-width="0.3" textLength="5.9" lengthAdjust="spacingAndGlyphs">R</text>
<text transform="translate(19.2 58.7) rotate(-90)" font-size="8" font-weight="bold" fill="#000" text-anchor="start" stroke="#000" stroke-width="0.3" textLength="8.8" lengthAdjust="spacingAndGlyphs">xx</text>
<text transform="translate(14.9 46.3) rotate(-90)" font-size="6.9" font-weight="normal" fill="#000" text-anchor="start" stroke="#000" stroke-width="0.45" textLength="11.6" lengthAdjust="spacingAndGlyphs">(&#937;)</text>
<circle cx="97" cy="17.1" r="1.55" fill="none" stroke="#000" stroke-width="0.85"/>
<text x="127.2" y="19.4" font-size="6.8" text-anchor="end" font-weight="bold" fill="#000" stroke="#000" stroke-width="0.3">10 nm</text>
<circle cx="97" cy="25.95" r="1.55" fill="none" stroke="#ff0000" stroke-width="0.85"/>
<text x="127.2" y="28.25" font-size="6.8" text-anchor="end" font-weight="bold" fill="#000" stroke="#000" stroke-width="0.3">30 nm</text>
<circle cx="97" cy="34.8" r="1.55" fill="none" stroke="#0000ff" stroke-width="0.85"/>
<text x="127.2" y="37.1" font-size="6.8" text-anchor="end" font-weight="bold" fill="#000" stroke="#000" stroke-width="0.3">45 nm</text>
<circle cx="97" cy="43.65" r="1.55" fill="none" stroke="#ff00ff" stroke-width="0.85"/>
<text x="127.2" y="45.95" font-size="6.8" text-anchor="end" font-weight="bold" fill="#000" stroke="#000" stroke-width="0.3">74 nm</text>
<circle cx="97" cy="52.5" r="1.55" fill="none" stroke="#008000" stroke-width="0.85"/>
<text x="127.2" y="54.8" font-size="6.8" text-anchor="end" font-weight="bold" fill="#000" stroke="#000" stroke-width="0.3">125 nm</text>
<circle cx="214" cy="37" r="1.55" fill="none" stroke="#ff0000" stroke-width="0.85"/>
<circle cx="216.25" cy="37.73" r="1.55" fill="none" stroke="#ff0000" stroke-width="0.85"/>
<circle cx="218.5" cy="38.46" r="1.55" fill="none" stroke="#ff0000" stroke-width="0.85"/>
<circle cx="220.75" cy="39.19" r="1.55" fill="none" stroke="#ff0000" stroke-width="0.85"/>
<circle cx="223" cy="39.92" r="1.55" fill="none" stroke="#ff0000" stroke-width="0.85"/>
<circle cx="225.25" cy="40.65" r="1.55" fill="none" stroke="#ff0000" stroke-width="0.85"/>
<circle cx="227.5" cy="41.38" r="1.55" fill="none" stroke="#ff0000" stroke-width="0.85"/>
<circle cx="229.75" cy="42.11" r="1.55" fill="none" stroke="#ff0000" stroke-width="0.85"/>
<circle cx="232" cy="42.84" r="1.55" fill="none" stroke="#ff0000" stroke-width="0.85"/>
<circle cx="234.25" cy="43.57" r="1.55" fill="none" stroke="#ff0000" stroke-width="0.85"/>
<circle cx="236.5" cy="44.3" r="1.55" fill="none" stroke="#ff0000" stroke-width="0.85"/>
<circle cx="238.75" cy="45.03" r="1.55" fill="none" stroke="#ff0000" stroke-width="0.85"/>
<circle cx="241" cy="45.76" r="1.55" fill="none" stroke="#ff0000" stroke-width="0.85"/>
<circle cx="243.25" cy="46.49" r="1.55" fill="none" stroke="#ff0000" stroke-width="0.85"/>
<circle cx="245.5" cy="47.22" r="1.55" fill="none" stroke="#ff0000" stroke-width="0.85"/>
<circle cx="247.75" cy="47.95" r="1.55" fill="none" stroke="#ff0000" stroke-width="0.85"/>
<circle cx="250" cy="48.69" r="1.55" fill="none" stroke="#ff0000" stroke-width="0.85"/>
<circle cx="252.25" cy="49.42" r="1.55" fill="none" stroke="#ff0000" stroke-width="0.85"/>
<circle cx="254.5" cy="50.15" r="1.55" fill="none" stroke="#ff0000" stroke-width="0.85"/>
<circle cx="256.75" cy="50.88" r="1.55" fill="none" stroke="#ff0000" stroke-width="0.85"/>
<circle cx="259" cy="51.61" r="1.55" fill="none" stroke="#ff0000" stroke-width="0.85"/>
<circle cx="261.25" cy="52.34" r="1.55" fill="none" stroke="#ff0000" stroke-width="0.85"/>
<circle cx="263.5" cy="53.07" r="1.55" fill="none" stroke="#ff0000" stroke-width="0.85"/>
<circle cx="265.75" cy="53.8" r="1.55" fill="none" stroke="#ff0000" stroke-width="0.85"/>
<circle cx="268" cy="54.53" r="1.55" fill="none" stroke="#ff0000" stroke-width="0.85"/>
<circle cx="270.25" cy="55.26" r="1.55" fill="none" stroke="#ff0000" stroke-width="0.85"/>
<circle cx="272.5" cy="55.99" r="1.55" fill="none" stroke="#ff0000" stroke-width="0.85"/>
<circle cx="274.75" cy="56.72" r="1.55" fill="none" stroke="#ff0000" stroke-width="0.85"/>
<circle cx="277" cy="57.45" r="1.55" fill="none" stroke="#ff0000" stroke-width="0.85"/>
<circle cx="279.25" cy="58.18" r="1.55" fill="none" stroke="#ff0000" stroke-width="0.85"/>
<circle cx="281.5" cy="58.91" r="1.55" fill="none" stroke="#ff0000" stroke-width="0.85"/>
<circle cx="283.75" cy="59.64" r="1.55" fill="none" stroke="#ff0000" stroke-width="0.85"/>
<circle cx="286" cy="60.37" r="1.55" fill="none" stroke="#ff0000" stroke-width="0.85"/>
<circle cx="288.25" cy="61.1" r="1.55" fill="none" stroke="#ff0000" stroke-width="0.85"/>
<circle cx="290.5" cy="61.83" r="1.55" fill="none" stroke="#ff0000" stroke-width="0.85"/>
<circle cx="292.75" cy="62.56" r="1.55" fill="none" stroke="#ff0000" stroke-width="0.85"/>
<circle cx="295" cy="63.29" r="1.55" fill="none" stroke="#ff0000" stroke-width="0.85"/>
<circle cx="297.25" cy="64.02" r="1.55" fill="none" stroke="#ff0000" stroke-width="0.85"/>
<circle cx="299.5" cy="64.75" r="1.55" fill="none" stroke="#ff0000" stroke-width="0.85"/>
<circle cx="301.75" cy="65.48" r="1.55" fill="none" stroke="#ff0000" stroke-width="0.85"/>
<circle cx="304" cy="66.21" r="1.55" fill="none" stroke="#ff0000" stroke-width="0.85"/>
<circle cx="306.25" cy="66.94" r="1.55" fill="none" stroke="#ff0000" stroke-width="0.85"/>
<circle cx="308.5" cy="67.67" r="1.55" fill="none" stroke="#ff0000" stroke-width="0.85"/>
<circle cx="310.75" cy="68.4" r="1.55" fill="none" stroke="#ff0000" stroke-width="0.85"/>
<circle cx="313" cy="69.13" r="1.55" fill="none" stroke="#ff0000" stroke-width="0.85"/>
<circle cx="315.25" cy="69.86" r="1.55" fill="none" stroke="#ff0000" stroke-width="0.85"/>
<circle cx="317.5" cy="70.6" r="1.55" fill="none" stroke="#ff0000" stroke-width="0.85"/>
<circle cx="319.75" cy="71.33" r="1.55" fill="none" stroke="#ff0000" stroke-width="0.85"/>
<circle cx="322" cy="72.06" r="1.55" fill="none" stroke="#ff0000" stroke-width="0.85"/>
<circle cx="324.25" cy="72.79" r="1.55" fill="none" stroke="#ff0000" stroke-width="0.85"/>
<circle cx="326.5" cy="73.52" r="1.55" fill="none" stroke="#ff0000" stroke-width="0.85"/>
<circle cx="328.75" cy="74.25" r="1.55" fill="none" stroke="#ff0000" stroke-width="0.85"/>
<circle cx="331" cy="74.98" r="1.55" fill="none" stroke="#ff0000" stroke-width="0.85"/>
<circle cx="333.25" cy="75.71" r="1.55" fill="none" stroke="#ff0000" stroke-width="0.85"/>
<circle cx="335.5" cy="76.44" r="1.55" fill="none" stroke="#ff0000" stroke-width="0.85"/>
<path d="M214 39.9 L215.63 42.76 L212.37 42.76Z" fill="none" stroke="#0000ff" stroke-width="0.85" stroke-linejoin="miter"/>
<path d="M216.25 40.45 L217.88 43.32 L214.62 43.32Z" fill="none" stroke="#0000ff" stroke-width="0.85" stroke-linejoin="miter"/>
<path d="M218.5 41 L220.13 43.87 L216.87 43.87Z" fill="none" stroke="#0000ff" stroke-width="0.85" stroke-linejoin="miter"/>
<path d="M220.75 41.55 L222.38 44.42 L219.12 44.42Z" fill="none" stroke="#0000ff" stroke-width="0.85" stroke-linejoin="miter"/>
<path d="M223 42.11 L224.63 44.98 L221.37 44.98Z" fill="none" stroke="#0000ff" stroke-width="0.85" stroke-linejoin="miter"/>
<path d="M225.25 42.66 L226.88 45.53 L223.62 45.53Z" fill="none" stroke="#0000ff" stroke-width="0.85" stroke-linejoin="miter"/>
<path d="M227.5 43.21 L229.13 46.08 L225.87 46.08Z" fill="none" stroke="#0000ff" stroke-width="0.85" stroke-linejoin="miter"/>
<path d="M229.75 43.77 L231.38 46.64 L228.12 46.64Z" fill="none" stroke="#0000ff" stroke-width="0.85" stroke-linejoin="miter"/>
<path d="M232 44.32 L233.63 47.19 L230.37 47.19Z" fill="none" stroke="#0000ff" stroke-width="0.85" stroke-linejoin="miter"/>
<path d="M234.25 44.87 L235.88 47.74 L232.62 47.74Z" fill="none" stroke="#0000ff" stroke-width="0.85" stroke-linejoin="miter"/>
<path d="M236.5 45.43 L238.13 48.3 L234.87 48.3Z" fill="none" stroke="#0000ff" stroke-width="0.85" stroke-linejoin="miter"/>
<path d="M238.75 45.98 L240.38 48.85 L237.12 48.85Z" fill="none" stroke="#0000ff" stroke-width="0.85" stroke-linejoin="miter"/>
<path d="M241 46.53 L242.63 49.4 L239.37 49.4Z" fill="none" stroke="#0000ff" stroke-width="0.85" stroke-linejoin="miter"/>
<path d="M243.25 47.09 L244.88 49.96 L241.62 49.96Z" fill="none" stroke="#0000ff" stroke-width="0.85" stroke-linejoin="miter"/>
<path d="M245.5 47.64 L247.13 50.51 L243.87 50.51Z" fill="none" stroke="#0000ff" stroke-width="0.85" stroke-linejoin="miter"/>
<path d="M247.75 48.19 L249.38 51.06 L246.12 51.06Z" fill="none" stroke="#0000ff" stroke-width="0.85" stroke-linejoin="miter"/>
<path d="M250 48.75 L251.63 51.61 L248.37 51.61Z" fill="none" stroke="#0000ff" stroke-width="0.85" stroke-linejoin="miter"/>
<path d="M252.25 49.3 L253.88 52.17 L250.62 52.17Z" fill="none" stroke="#0000ff" stroke-width="0.85" stroke-linejoin="miter"/>
<path d="M254.5 49.85 L256.13 52.72 L252.87 52.72Z" fill="none" stroke="#0000ff" stroke-width="0.85" stroke-linejoin="miter"/>
<path d="M256.75 50.41 L258.38 53.27 L255.12 53.27Z" fill="none" stroke="#0000ff" stroke-width="0.85" stroke-linejoin="miter"/>
<path d="M259 50.96 L260.63 53.83 L257.37 53.83Z" fill="none" stroke="#0000ff" stroke-width="0.85" stroke-linejoin="miter"/>
<path d="M261.25 51.51 L262.88 54.38 L259.62 54.38Z" fill="none" stroke="#0000ff" stroke-width="0.85" stroke-linejoin="miter"/>
<path d="M263.5 52.07 L265.13 54.93 L261.87 54.93Z" fill="none" stroke="#0000ff" stroke-width="0.85" stroke-linejoin="miter"/>
<path d="M265.75 52.62 L267.38 55.49 L264.12 55.49Z" fill="none" stroke="#0000ff" stroke-width="0.85" stroke-linejoin="miter"/>
<path d="M268 53.17 L269.63 56.04 L266.37 56.04Z" fill="none" stroke="#0000ff" stroke-width="0.85" stroke-linejoin="miter"/>
<path d="M270.25 53.73 L271.88 56.59 L268.62 56.59Z" fill="none" stroke="#0000ff" stroke-width="0.85" stroke-linejoin="miter"/>
<path d="M272.5 54.28 L274.13 57.15 L270.87 57.15Z" fill="none" stroke="#0000ff" stroke-width="0.85" stroke-linejoin="miter"/>
<path d="M274.75 54.83 L276.38 57.7 L273.12 57.7Z" fill="none" stroke="#0000ff" stroke-width="0.85" stroke-linejoin="miter"/>
<path d="M277 55.39 L278.63 58.25 L275.37 58.25Z" fill="none" stroke="#0000ff" stroke-width="0.85" stroke-linejoin="miter"/>
<path d="M279.25 55.94 L280.88 58.81 L277.62 58.81Z" fill="none" stroke="#0000ff" stroke-width="0.85" stroke-linejoin="miter"/>
<path d="M281.5 56.49 L283.13 59.36 L279.87 59.36Z" fill="none" stroke="#0000ff" stroke-width="0.85" stroke-linejoin="miter"/>
<path d="M283.75 57.05 L285.38 59.91 L282.12 59.91Z" fill="none" stroke="#0000ff" stroke-width="0.85" stroke-linejoin="miter"/>
<path d="M286 57.6 L287.63 60.47 L284.37 60.47Z" fill="none" stroke="#0000ff" stroke-width="0.85" stroke-linejoin="miter"/>
<path d="M288.25 58.15 L289.88 61.02 L286.62 61.02Z" fill="none" stroke="#0000ff" stroke-width="0.85" stroke-linejoin="miter"/>
<path d="M290.5 58.71 L292.13 61.57 L288.87 61.57Z" fill="none" stroke="#0000ff" stroke-width="0.85" stroke-linejoin="miter"/>
<path d="M292.75 59.26 L294.38 62.13 L291.12 62.13Z" fill="none" stroke="#0000ff" stroke-width="0.85" stroke-linejoin="miter"/>
<path d="M295 59.81 L296.63 62.68 L293.37 62.68Z" fill="none" stroke="#0000ff" stroke-width="0.85" stroke-linejoin="miter"/>
<path d="M297.25 60.37 L298.88 63.23 L295.62 63.23Z" fill="none" stroke="#0000ff" stroke-width="0.85" stroke-linejoin="miter"/>
<path d="M299.5 60.92 L301.13 63.79 L297.87 63.79Z" fill="none" stroke="#0000ff" stroke-width="0.85" stroke-linejoin="miter"/>
<path d="M301.75 61.47 L303.38 64.34 L300.12 64.34Z" fill="none" stroke="#0000ff" stroke-width="0.85" stroke-linejoin="miter"/>
<path d="M304 62.03 L305.63 64.89 L302.37 64.89Z" fill="none" stroke="#0000ff" stroke-width="0.85" stroke-linejoin="miter"/>
<path d="M306.25 62.58 L307.88 65.45 L304.62 65.45Z" fill="none" stroke="#0000ff" stroke-width="0.85" stroke-linejoin="miter"/>
<path d="M308.5 63.13 L310.13 66 L306.87 66Z" fill="none" stroke="#0000ff" stroke-width="0.85" stroke-linejoin="miter"/>
<path d="M310.75 63.69 L312.38 66.55 L309.12 66.55Z" fill="none" stroke="#0000ff" stroke-width="0.85" stroke-linejoin="miter"/>
<path d="M313 64.24 L314.63 67.11 L311.37 67.11Z" fill="none" stroke="#0000ff" stroke-width="0.85" stroke-linejoin="miter"/>
<path d="M315.25 64.79 L316.88 67.66 L313.62 67.66Z" fill="none" stroke="#0000ff" stroke-width="0.85" stroke-linejoin="miter"/>
<path d="M317.5 65.35 L319.13 68.21 L315.87 68.21Z" fill="none" stroke="#0000ff" stroke-width="0.85" stroke-linejoin="miter"/>
<path d="M319.75 65.9 L321.38 68.77 L318.12 68.77Z" fill="none" stroke="#0000ff" stroke-width="0.85" stroke-linejoin="miter"/>
<path d="M322 66.45 L323.63 69.32 L320.37 69.32Z" fill="none" stroke="#0000ff" stroke-width="0.85" stroke-linejoin="miter"/>
<path d="M324.25 67.01 L325.88 69.87 L322.62 69.87Z" fill="none" stroke="#0000ff" stroke-width="0.85" stroke-linejoin="miter"/>
<path d="M326.5 67.56 L328.13 70.43 L324.87 70.43Z" fill="none" stroke="#0000ff" stroke-width="0.85" stroke-linejoin="miter"/>
<path d="M328.75 68.11 L330.38 70.98 L327.12 70.98Z" fill="none" stroke="#0000ff" stroke-width="0.85" stroke-linejoin="miter"/>
<path d="M331 68.67 L332.63 71.53 L329.37 71.53Z" fill="none" stroke="#0000ff" stroke-width="0.85" stroke-linejoin="miter"/>
<path d="M333.25 69.22 L334.88 72.09 L331.62 72.09Z" fill="none" stroke="#0000ff" stroke-width="0.85" stroke-linejoin="miter"/>
<path d="M335.5 69.77 L337.13 72.64 L333.87 72.64Z" fill="none" stroke="#0000ff" stroke-width="0.85" stroke-linejoin="miter"/>
<path d="M214 46.3 L215.63 43.44 L212.37 43.44Z" fill="none" stroke="#ff00ff" stroke-width="0.85" stroke-linejoin="miter"/>
<path d="M216.25 46.73 L217.88 43.87 L214.62 43.87Z" fill="none" stroke="#ff00ff" stroke-width="0.85" stroke-linejoin="miter"/>
<path d="M218.5 47.16 L220.13 44.29 L216.87 44.29Z" fill="none" stroke="#ff00ff" stroke-width="0.85" stroke-linejoin="miter"/>
<path d="M220.75 47.59 L222.38 44.72 L219.12 44.72Z" fill="none" stroke="#ff00ff" stroke-width="0.85" stroke-linejoin="miter"/>
<path d="M223 48.02 L224.63 45.15 L221.37 45.15Z" fill="none" stroke="#ff00ff" stroke-width="0.85" stroke-linejoin="miter"/>
<path d="M225.25 48.44 L226.88 45.58 L223.62 45.58Z" fill="none" stroke="#ff00ff" stroke-width="0.85" stroke-linejoin="miter"/>
<path d="M227.5 48.87 L229.13 46 L225.87 46Z" fill="none" stroke="#ff00ff" stroke-width="0.85" stroke-linejoin="miter"/>
<path d="M229.75 49.3 L231.38 46.43 L228.12 46.43Z" fill="none" stroke="#ff00ff" stroke-width="0.85" stroke-linejoin="miter"/>
<path d="M232 49.73 L233.63 46.86 L230.37 46.86Z" fill="none" stroke="#ff00ff" stroke-width="0.85" stroke-linejoin="miter"/>
<path d="M234.25 50.16 L235.88 47.29 L232.62 47.29Z" fill="none" stroke="#ff00ff" stroke-width="0.85" stroke-linejoin="miter"/>
<path d="M236.5 50.58 L238.13 47.72 L234.87 47.72Z" fill="none" stroke="#ff00ff" stroke-width="0.85" stroke-linejoin="miter"/>
<path d="M238.75 51.01 L240.38 48.14 L237.12 48.14Z" fill="none" stroke="#ff00ff" stroke-width="0.85" stroke-linejoin="miter"/>
<path d="M241 51.44 L242.63 48.57 L239.37 48.57Z" fill="none" stroke="#ff00ff" stroke-width="0.85" stroke-linejoin="miter"/>
<path d="M243.25 51.87 L244.88 49 L241.62 49Z" fill="none" stroke="#ff00ff" stroke-width="0.85" stroke-linejoin="miter"/>
<path d="M245.5 52.3 L247.13 49.43 L243.87 49.43Z" fill="none" stroke="#ff00ff" stroke-width="0.85" stroke-linejoin="miter"/>
<path d="M247.75 52.72 L249.38 49.86 L246.12 49.86Z" fill="none" stroke="#ff00ff" stroke-width="0.85" stroke-linejoin="miter"/>
<path d="M250 53.15 L251.63 50.28 L248.37 50.28Z" fill="none" stroke="#ff00ff" stroke-width="0.85" stroke-linejoin="miter"/>
<path d="M252.25 53.58 L253.88 50.71 L250.62 50.71Z" fill="none" stroke="#ff00ff" stroke-width="0.85" stroke-linejoin="miter"/>
<path d="M254.5 54.01 L256.13 51.14 L252.87 51.14Z" fill="none" stroke="#ff00ff" stroke-width="0.85" stroke-linejoin="miter"/>
<path d="M256.75 54.43 L258.38 51.57 L255.12 51.57Z" fill="none" stroke="#ff00ff" stroke-width="0.85" stroke-linejoin="miter"/>
<path d="M259 54.86 L260.63 51.99 L257.37 51.99Z" fill="none" stroke="#ff00ff" stroke-width="0.85" stroke-linejoin="miter"/>
<path d="M261.25 55.29 L262.88 52.42 L259.62 52.42Z" fill="none" stroke="#ff00ff" stroke-width="0.85" stroke-linejoin="miter"/>
<path d="M263.5 55.72 L265.13 52.85 L261.87 52.85Z" fill="none" stroke="#ff00ff" stroke-width="0.85" stroke-linejoin="miter"/>
<path d="M265.75 56.15 L267.38 53.28 L264.12 53.28Z" fill="none" stroke="#ff00ff" stroke-width="0.85" stroke-linejoin="miter"/>
<path d="M268 56.57 L269.63 53.71 L266.37 53.71Z" fill="none" stroke="#ff00ff" stroke-width="0.85" stroke-linejoin="miter"/>
<path d="M270.25 57 L271.88 54.13 L268.62 54.13Z" fill="none" stroke="#ff00ff" stroke-width="0.85" stroke-linejoin="miter"/>
<path d="M272.5 57.43 L274.13 54.56 L270.87 54.56Z" fill="none" stroke="#ff00ff" stroke-width="0.85" stroke-linejoin="miter"/>
<path d="M274.75 57.86 L276.38 54.99 L273.12 54.99Z" fill="none" stroke="#ff00ff" stroke-width="0.85" stroke-linejoin="miter"/>
<path d="M277 58.29 L278.63 55.42 L275.37 55.42Z" fill="none" stroke="#ff00ff" stroke-width="0.85" stroke-linejoin="miter"/>
<path d="M279.25 58.71 L280.88 55.85 L277.62 55.85Z" fill="none" stroke="#ff00ff" stroke-width="0.85" stroke-linejoin="miter"/>
<path d="M281.5 59.14 L283.13 56.27 L279.87 56.27Z" fill="none" stroke="#ff00ff" stroke-width="0.85" stroke-linejoin="miter"/>
<path d="M283.75 59.57 L285.38 56.7 L282.12 56.7Z" fill="none" stroke="#ff00ff" stroke-width="0.85" stroke-linejoin="miter"/>
<path d="M286 60 L287.63 57.13 L284.37 57.13Z" fill="none" stroke="#ff00ff" stroke-width="0.85" stroke-linejoin="miter"/>
<path d="M288.25 60.42 L289.88 57.56 L286.62 57.56Z" fill="none" stroke="#ff00ff" stroke-width="0.85" stroke-linejoin="miter"/>
<path d="M290.5 60.85 L292.13 57.99 L288.87 57.99Z" fill="none" stroke="#ff00ff" stroke-width="0.85" stroke-linejoin="miter"/>
<path d="M292.75 61.28 L294.38 58.41 L291.12 58.41Z" fill="none" stroke="#ff00ff" stroke-width="0.85" stroke-linejoin="miter"/>
<path d="M295 61.71 L296.63 58.84 L293.37 58.84Z" fill="none" stroke="#ff00ff" stroke-width="0.85" stroke-linejoin="miter"/>
<path d="M297.25 62.14 L298.88 59.27 L295.62 59.27Z" fill="none" stroke="#ff00ff" stroke-width="0.85" stroke-linejoin="miter"/>
<path d="M299.5 62.56 L301.13 59.7 L297.87 59.7Z" fill="none" stroke="#ff00ff" stroke-width="0.85" stroke-linejoin="miter"/>
<path d="M301.75 62.99 L303.38 60.12 L300.12 60.12Z" fill="none" stroke="#ff00ff" stroke-width="0.85" stroke-linejoin="miter"/>
<path d="M304 63.42 L305.63 60.55 L302.37 60.55Z" fill="none" stroke="#ff00ff" stroke-width="0.85" stroke-linejoin="miter"/>
<path d="M306.25 63.85 L307.88 60.98 L304.62 60.98Z" fill="none" stroke="#ff00ff" stroke-width="0.85" stroke-linejoin="miter"/>
<path d="M308.5 64.28 L310.13 61.41 L306.87 61.41Z" fill="none" stroke="#ff00ff" stroke-width="0.85" stroke-linejoin="miter"/>
<path d="M310.75 64.7 L312.38 61.84 L309.12 61.84Z" fill="none" stroke="#ff00ff" stroke-width="0.85" stroke-linejoin="miter"/>
<path d="M313 65.13 L314.63 62.26 L311.37 62.26Z" fill="none" stroke="#ff00ff" stroke-width="0.85" stroke-linejoin="miter"/>
<path d="M315.25 65.56 L316.88 62.69 L313.62 62.69Z" fill="none" stroke="#ff00ff" stroke-width="0.85" stroke-linejoin="miter"/>
<path d="M317.5 65.99 L319.13 63.12 L315.87 63.12Z" fill="none" stroke="#ff00ff" stroke-width="0.85" stroke-linejoin="miter"/>
<path d="M319.75 66.41 L321.38 63.55 L318.12 63.55Z" fill="none" stroke="#ff00ff" stroke-width="0.85" stroke-linejoin="miter"/>
<path d="M322 66.84 L323.63 63.98 L320.37 63.98Z" fill="none" stroke="#ff00ff" stroke-width="0.85" stroke-linejoin="miter"/>
<path d="M324.25 67.27 L325.88 64.4 L322.62 64.4Z" fill="none" stroke="#ff00ff" stroke-width="0.85" stroke-linejoin="miter"/>
<path d="M326.5 67.7 L328.13 64.83 L324.87 64.83Z" fill="none" stroke="#ff00ff" stroke-width="0.85" stroke-linejoin="miter"/>
<path d="M328.75 68.13 L330.38 65.26 L327.12 65.26Z" fill="none" stroke="#ff00ff" stroke-width="0.85" stroke-linejoin="miter"/>
<path d="M331 68.55 L332.63 65.69 L329.37 65.69Z" fill="none" stroke="#ff00ff" stroke-width="0.85" stroke-linejoin="miter"/>
<path d="M333.25 68.98 L334.88 66.11 L331.62 66.11Z" fill="none" stroke="#ff00ff" stroke-width="0.85" stroke-linejoin="miter"/>
<path d="M335.5 69.41 L337.13 66.54 L333.87 66.54Z" fill="none" stroke="#ff00ff" stroke-width="0.85" stroke-linejoin="miter"/>
<path d="M214 48.36 L215.85 50.6 L214 52.84 L212.15 50.6Z" fill="none" stroke="#008000" stroke-width="0.85" stroke-linejoin="miter"/>
<path d="M215.6 48.52 L217.45 50.76 L215.6 53.01 L213.75 50.76Z" fill="none" stroke="#008000" stroke-width="0.85" stroke-linejoin="miter"/>
<path d="M217.2 48.68 L219.05 50.93 L217.2 53.17 L215.35 50.93Z" fill="none" stroke="#008000" stroke-width="0.85" stroke-linejoin="miter"/>
<path d="M218.8 48.85 L220.65 51.09 L218.8 53.33 L216.95 51.09Z" fill="none" stroke="#008000" stroke-width="0.85" stroke-linejoin="miter"/>
<path d="M220.4 49.01 L222.25 51.25 L220.4 53.49 L218.55 51.25Z" fill="none" stroke="#008000" stroke-width="0.85" stroke-linejoin="miter"/>
<path d="M222 49.17 L223.85 51.41 L222 53.66 L220.15 51.41Z" fill="none" stroke="#008000" stroke-width="0.85" stroke-linejoin="miter"/>
<path d="M223.6 49.33 L225.45 51.58 L223.6 53.82 L221.75 51.58Z" fill="none" stroke="#008000" stroke-width="0.85" stroke-linejoin="miter"/>
<path d="M225.2 49.5 L227.05 51.74 L225.2 53.98 L223.35 51.74Z" fill="none" stroke="#008000" stroke-width="0.85" stroke-linejoin="miter"/>
<path d="M226.8 49.66 L228.65 51.9 L226.8 54.14 L224.95 51.9Z" fill="none" stroke="#008000" stroke-width="0.85" stroke-linejoin="miter"/>
<path d="M228.4 49.82 L230.25 52.06 L228.4 54.31 L226.55 52.06Z" fill="none" stroke="#008000" stroke-width="0.85" stroke-linejoin="miter"/>
<path d="M230 49.98 L231.85 52.23 L230 54.47 L228.15 52.23Z" fill="none" stroke="#008000" stroke-width="0.85" stroke-linejoin="miter"/>
<path d="M231.6 50.15 L233.45 52.39 L231.6 54.63 L229.75 52.39Z" fill="none" stroke="#008000" stroke-width="0.85" stroke-linejoin="miter"/>
<path d="M233.2 50.31 L235.05 52.55 L233.2 54.79 L231.35 52.55Z" fill="none" stroke="#008000" stroke-width="0.85" stroke-linejoin="miter"/>
<path d="M234.8 50.47 L236.65 52.71 L234.8 54.96 L232.95 52.71Z" fill="none" stroke="#008000" stroke-width="0.85" stroke-linejoin="miter"/>
<path d="M236.4 50.63 L238.25 52.88 L236.4 55.12 L234.55 52.88Z" fill="none" stroke="#008000" stroke-width="0.85" stroke-linejoin="miter"/>
<path d="M238 50.8 L239.85 53.04 L238 55.28 L236.15 53.04Z" fill="none" stroke="#008000" stroke-width="0.85" stroke-linejoin="miter"/>
<path d="M239.6 50.96 L241.45 53.2 L239.6 55.44 L237.75 53.2Z" fill="none" stroke="#008000" stroke-width="0.85" stroke-linejoin="miter"/>
<path d="M241.2 51.12 L243.05 53.36 L241.2 55.61 L239.35 53.36Z" fill="none" stroke="#008000" stroke-width="0.85" stroke-linejoin="miter"/>
<path d="M242.8 51.28 L244.65 53.53 L242.8 55.77 L240.95 53.53Z" fill="none" stroke="#008000" stroke-width="0.85" stroke-linejoin="miter"/>
<path d="M244.4 51.45 L246.25 53.69 L244.4 55.93 L242.55 53.69Z" fill="none" stroke="#008000" stroke-width="0.85" stroke-linejoin="miter"/>
<path d="M246 51.61 L247.85 53.85 L246 56.09 L244.15 53.85Z" fill="none" stroke="#008000" stroke-width="0.85" stroke-linejoin="miter"/>
<path d="M247.6 51.77 L249.45 54.02 L247.6 56.26 L245.75 54.02Z" fill="none" stroke="#008000" stroke-width="0.85" stroke-linejoin="miter"/>
<path d="M249.2 51.94 L251.05 54.18 L249.2 56.42 L247.35 54.18Z" fill="none" stroke="#008000" stroke-width="0.85" stroke-linejoin="miter"/>
<path d="M250.8 52.1 L252.65 54.34 L250.8 56.58 L248.95 54.34Z" fill="none" stroke="#008000" stroke-width="0.85" stroke-linejoin="miter"/>
<path d="M252.4 52.26 L254.25 54.5 L252.4 56.75 L250.55 54.5Z" fill="none" stroke="#008000" stroke-width="0.85" stroke-linejoin="miter"/>
<path d="M254 52.42 L255.85 54.67 L254 56.91 L252.15 54.67Z" fill="none" stroke="#008000" stroke-width="0.85" stroke-linejoin="miter"/>
<path d="M255.6 52.59 L257.45 54.83 L255.6 57.07 L253.75 54.83Z" fill="none" stroke="#008000" stroke-width="0.85" stroke-linejoin="miter"/>
<path d="M257.2 52.75 L259.05 54.99 L257.2 57.23 L255.35 54.99Z" fill="none" stroke="#008000" stroke-width="0.85" stroke-linejoin="miter"/>
<path d="M258.8 52.91 L260.65 55.15 L258.8 57.4 L256.95 55.15Z" fill="none" stroke="#008000" stroke-width="0.85" stroke-linejoin="miter"/>
<path d="M260.4 53.07 L262.25 55.32 L260.4 57.56 L258.55 55.32Z" fill="none" stroke="#008000" stroke-width="0.85" stroke-linejoin="miter"/>
<path d="M262 53.24 L263.85 55.48 L262 57.72 L260.15 55.48Z" fill="none" stroke="#008000" stroke-width="0.85" stroke-linejoin="miter"/>
<path d="M263.6 53.4 L265.45 55.64 L263.6 57.88 L261.75 55.64Z" fill="none" stroke="#008000" stroke-width="0.85" stroke-linejoin="miter"/>
<path d="M265.2 53.56 L267.05 55.8 L265.2 58.05 L263.35 55.8Z" fill="none" stroke="#008000" stroke-width="0.85" stroke-linejoin="miter"/>
<path d="M266.8 53.72 L268.65 55.97 L266.8 58.21 L264.95 55.97Z" fill="none" stroke="#008000" stroke-width="0.85" stroke-linejoin="miter"/>
<path d="M268.4 53.89 L270.25 56.13 L268.4 58.37 L266.55 56.13Z" fill="none" stroke="#008000" stroke-width="0.85" stroke-linejoin="miter"/>
<path d="M270 54.05 L271.85 56.29 L270 58.53 L268.15 56.29Z" fill="none" stroke="#008000" stroke-width="0.85" stroke-linejoin="miter"/>
<path d="M271.6 54.21 L273.45 56.45 L271.6 58.7 L269.75 56.45Z" fill="none" stroke="#008000" stroke-width="0.85" stroke-linejoin="miter"/>
<path d="M273.2 54.37 L275.05 56.62 L273.2 58.86 L271.35 56.62Z" fill="none" stroke="#008000" stroke-width="0.85" stroke-linejoin="miter"/>
<path d="M274.8 54.54 L276.65 56.78 L274.8 59.02 L272.95 56.78Z" fill="none" stroke="#008000" stroke-width="0.85" stroke-linejoin="miter"/>
<path d="M276.4 54.7 L278.25 56.94 L276.4 59.18 L274.55 56.94Z" fill="none" stroke="#008000" stroke-width="0.85" stroke-linejoin="miter"/>
<path d="M278 54.86 L279.85 57.1 L278 59.35 L276.15 57.1Z" fill="none" stroke="#008000" stroke-width="0.85" stroke-linejoin="miter"/>
<path d="M279.6 55.03 L281.45 57.27 L279.6 59.51 L277.75 57.27Z" fill="none" stroke="#008000" stroke-width="0.85" stroke-linejoin="miter"/>
<path d="M281.2 55.19 L283.05 57.43 L281.2 59.67 L279.35 57.43Z" fill="none" stroke="#008000" stroke-width="0.85" stroke-linejoin="miter"/>
<path d="M282.8 55.35 L284.65 57.59 L282.8 59.84 L280.95 57.59Z" fill="none" stroke="#008000" stroke-width="0.85" stroke-linejoin="miter"/>
<path d="M284.4 55.51 L286.25 57.76 L284.4 60 L282.55 57.76Z" fill="none" stroke="#008000" stroke-width="0.85" stroke-linejoin="miter"/>
<path d="M286 55.68 L287.85 57.92 L286 60.16 L284.15 57.92Z" fill="none" stroke="#008000" stroke-width="0.85" stroke-linejoin="miter"/>
<path d="M287.6 55.84 L289.45 58.08 L287.6 60.32 L285.75 58.08Z" fill="none" stroke="#008000" stroke-width="0.85" stroke-linejoin="miter"/>
<path d="M289.2 56 L291.05 58.24 L289.2 60.49 L287.35 58.24Z" fill="none" stroke="#008000" stroke-width="0.85" stroke-linejoin="miter"/>
<path d="M290.8 56.16 L292.65 58.41 L290.8 60.65 L288.95 58.41Z" fill="none" stroke="#008000" stroke-width="0.85" stroke-linejoin="miter"/>
<path d="M292.4 56.33 L294.25 58.57 L292.4 60.81 L290.55 58.57Z" fill="none" stroke="#008000" stroke-width="0.85" stroke-linejoin="miter"/>
<path d="M294 56.49 L295.85 58.73 L294 60.97 L292.15 58.73Z" fill="none" stroke="#008000" stroke-width="0.85" stroke-linejoin="miter"/>
<path d="M295.6 56.65 L297.45 58.89 L295.6 61.14 L293.75 58.89Z" fill="none" stroke="#008000" stroke-width="0.85" stroke-linejoin="miter"/>
<path d="M297.2 56.81 L299.05 59.06 L297.2 61.3 L295.35 59.06Z" fill="none" stroke="#008000" stroke-width="0.85" stroke-linejoin="miter"/>
<path d="M298.8 56.98 L300.65 59.22 L298.8 61.46 L296.95 59.22Z" fill="none" stroke="#008000" stroke-width="0.85" stroke-linejoin="miter"/>
<path d="M300.4 57.14 L302.25 59.38 L300.4 61.62 L298.55 59.38Z" fill="none" stroke="#008000" stroke-width="0.85" stroke-linejoin="miter"/>
<path d="M302 57.3 L303.85 59.54 L302 61.79 L300.15 59.54Z" fill="none" stroke="#008000" stroke-width="0.85" stroke-linejoin="miter"/>
<path d="M303.6 57.46 L305.45 59.71 L303.6 61.95 L301.75 59.71Z" fill="none" stroke="#008000" stroke-width="0.85" stroke-linejoin="miter"/>
<path d="M305.2 57.63 L307.05 59.87 L305.2 62.11 L303.35 59.87Z" fill="none" stroke="#008000" stroke-width="0.85" stroke-linejoin="miter"/>
<path d="M306.8 57.79 L308.65 60.03 L306.8 62.27 L304.95 60.03Z" fill="none" stroke="#008000" stroke-width="0.85" stroke-linejoin="miter"/>
<path d="M308.4 57.95 L310.25 60.19 L308.4 62.44 L306.55 60.19Z" fill="none" stroke="#008000" stroke-width="0.85" stroke-linejoin="miter"/>
<path d="M310 58.11 L311.85 60.36 L310 62.6 L308.15 60.36Z" fill="none" stroke="#008000" stroke-width="0.85" stroke-linejoin="miter"/>
<path d="M311.6 58.28 L313.45 60.52 L311.6 62.76 L309.75 60.52Z" fill="none" stroke="#008000" stroke-width="0.85" stroke-linejoin="miter"/>
<path d="M313.2 58.44 L315.05 60.68 L313.2 62.93 L311.35 60.68Z" fill="none" stroke="#008000" stroke-width="0.85" stroke-linejoin="miter"/>
<path d="M314.8 58.6 L316.65 60.85 L314.8 63.09 L312.95 60.85Z" fill="none" stroke="#008000" stroke-width="0.85" stroke-linejoin="miter"/>
<path d="M316.4 58.77 L318.25 61.01 L316.4 63.25 L314.55 61.01Z" fill="none" stroke="#008000" stroke-width="0.85" stroke-linejoin="miter"/>
<path d="M318 58.93 L319.85 61.17 L318 63.41 L316.15 61.17Z" fill="none" stroke="#008000" stroke-width="0.85" stroke-linejoin="miter"/>
<path d="M319.6 59.09 L321.45 61.33 L319.6 63.58 L317.75 61.33Z" fill="none" stroke="#008000" stroke-width="0.85" stroke-linejoin="miter"/>
<path d="M321.2 59.25 L323.05 61.5 L321.2 63.74 L319.35 61.5Z" fill="none" stroke="#008000" stroke-width="0.85" stroke-linejoin="miter"/>
<path d="M322.8 59.42 L324.65 61.66 L322.8 63.9 L320.95 61.66Z" fill="none" stroke="#008000" stroke-width="0.85" stroke-linejoin="miter"/>
<path d="M324.4 59.58 L326.25 61.82 L324.4 64.06 L322.55 61.82Z" fill="none" stroke="#008000" stroke-width="0.85" stroke-linejoin="miter"/>
<path d="M326 59.74 L327.85 61.98 L326 64.23 L324.15 61.98Z" fill="none" stroke="#008000" stroke-width="0.85" stroke-linejoin="miter"/>
<path d="M327.6 59.9 L329.45 62.15 L327.6 64.39 L325.75 62.15Z" fill="none" stroke="#008000" stroke-width="0.85" stroke-linejoin="miter"/>
<path d="M329.2 60.07 L331.05 62.31 L329.2 64.55 L327.35 62.31Z" fill="none" stroke="#008000" stroke-width="0.85" stroke-linejoin="miter"/>
<path d="M330.8 60.23 L332.65 62.47 L330.8 64.71 L328.95 62.47Z" fill="none" stroke="#008000" stroke-width="0.85" stroke-linejoin="miter"/>
<path d="M332.4 60.39 L334.25 62.63 L332.4 64.88 L330.55 62.63Z" fill="none" stroke="#008000" stroke-width="0.85" stroke-linejoin="miter"/>
<path d="M334 60.55 L335.85 62.8 L334 65.04 L332.15 62.8Z" fill="none" stroke="#008000" stroke-width="0.85" stroke-linejoin="miter"/>
<path d="M335.6 60.72 L337.45 62.96 L335.6 65.2 L333.75 62.96Z" fill="none" stroke="#008000" stroke-width="0.85" stroke-linejoin="miter"/>
<line x1="214" y1="37" x2="336" y2="76.6" stroke="#ff0000" stroke-width="1.1"/>
<line x1="214" y1="41.6" x2="336" y2="71.6" stroke="#ff0000" stroke-width="1.1"/>
<line x1="214" y1="44.6" x2="336" y2="67.8" stroke="#ff0000" stroke-width="1.1"/>
<line x1="214" y1="50.6" x2="336" y2="63" stroke="#ff0000" stroke-width="1.7"/>
<line x1="214" y1="8.5" x2="336" y2="102.8" stroke="#222" stroke-width="3.4"/>
<line x1="214" y1="8.5" x2="336" y2="102.8" stroke="#ff0000" stroke-width="1.9"/>
<circle cx="214" cy="8.5" r="1.4" fill="none" stroke="#666" stroke-width="0.8"/>
<circle cx="336" cy="102.8" r="1.4" fill="none" stroke="#666" stroke-width="0.8"/>
<rect x="208.5" y="2.1" width="134.3" height="109.6" fill="none" stroke="#000" stroke-width="1.1"/>
<line x1="215.6" y1="111.7" x2="215.6" y2="108.7" stroke="#000" stroke-width="0.9"/>
<line x1="245.6" y1="111.7" x2="245.6" y2="108.7" stroke="#000" stroke-width="0.9"/>
<line x1="275.6" y1="111.7" x2="275.6" y2="108.7" stroke="#000" stroke-width="0.9"/>
<line x1="305.6" y1="111.7" x2="305.6" y2="108.7" stroke="#000" stroke-width="0.9"/>
<line x1="335.6" y1="111.7" x2="335.6" y2="108.7" stroke="#000" stroke-width="0.9"/>
<line x1="230.6" y1="111.7" x2="230.6" y2="110.1" stroke="#000" stroke-width="0.9"/>
<line x1="260.6" y1="111.7" x2="260.6" y2="110.1" stroke="#000" stroke-width="0.9"/>
<line x1="290.6" y1="111.7" x2="290.6" y2="110.1" stroke="#000" stroke-width="0.9"/>
<line x1="320.6" y1="111.7" x2="320.6" y2="110.1" stroke="#000" stroke-width="0.9"/>
<line x1="208.5" y1="108.1" x2="211.5" y2="108.1" stroke="#000" stroke-width="0.9"/>
<line x1="208.5" y1="91" x2="211.5" y2="91" stroke="#000" stroke-width="0.9"/>
<line x1="208.5" y1="73.9" x2="211.5" y2="73.9" stroke="#000" stroke-width="0.9"/>
<line x1="208.5" y1="56.8" x2="211.5" y2="56.8" stroke="#000" stroke-width="0.9"/>
<line x1="208.5" y1="39.7" x2="211.5" y2="39.7" stroke="#000" stroke-width="0.9"/>
<line x1="208.5" y1="22.6" x2="211.5" y2="22.6" stroke="#000" stroke-width="0.9"/>
<line x1="208.5" y1="5.5" x2="211.5" y2="5.5" stroke="#000" stroke-width="0.9"/>
<line x1="208.5" y1="99.55" x2="210.1" y2="99.55" stroke="#000" stroke-width="0.9"/>
<line x1="208.5" y1="82.45" x2="210.1" y2="82.45" stroke="#000" stroke-width="0.9"/>
<line x1="208.5" y1="65.35" x2="210.1" y2="65.35" stroke="#000" stroke-width="0.9"/>
<line x1="208.5" y1="48.25" x2="210.1" y2="48.25" stroke="#000" stroke-width="0.9"/>
<line x1="208.5" y1="31.15" x2="210.1" y2="31.15" stroke="#000" stroke-width="0.9"/>
<line x1="208.5" y1="14.05" x2="210.1" y2="14.05" stroke="#000" stroke-width="0.9"/>
<text x="215.6" y="120.7" font-size="7.5" text-anchor="middle" font-weight="bold" fill="#000" stroke="#000" stroke-width="0.3">-2</text>
<text x="245.6" y="120.7" font-size="7.5" text-anchor="middle" font-weight="bold" fill="#000" stroke="#000" stroke-width="0.3">-1</text>
<text x="275.6" y="120.7" font-size="7.5" text-anchor="middle" font-weight="bold" fill="#000" stroke="#000" stroke-width="0.3">0</text>
<text x="305.6" y="120.7" font-size="7.5" text-anchor="middle" font-weight="bold" fill="#000" stroke="#000" stroke-width="0.3">1</text>
<text x="335.6" y="120.7" font-size="7.5" text-anchor="middle" font-weight="bold" fill="#000" stroke="#000" stroke-width="0.3">2</text>
<text x="205.4" y="8" font-size="7.6" text-anchor="end" font-weight="bold" fill="#000" stroke="#000" stroke-width="0.3">1.5</text>
<text x="205.4" y="25.1" font-size="7.6" text-anchor="end" font-weight="bold" fill="#000" stroke="#000" stroke-width="0.3">1.0</text>
<text x="205.4" y="42.2" font-size="7.6" text-anchor="end" font-weight="bold" fill="#000" stroke="#000" stroke-width="0.3">0.5</text>
<text x="205.4" y="59.3" font-size="7.6" text-anchor="end" font-weight="bold" fill="#000" stroke="#000" stroke-width="0.3">0.0</text>
<text x="205.4" y="76.4" font-size="7.6" text-anchor="end" font-weight="bold" fill="#000" stroke="#000" stroke-width="0.3">-0.5</text>
<text x="205.4" y="93.5" font-size="7.6" text-anchor="end" font-weight="bold" fill="#000" stroke="#000" stroke-width="0.3">-1.0</text>
<text x="205.4" y="110.6" font-size="7.6" text-anchor="end" font-weight="bold" fill="#000" stroke="#000" stroke-width="0.3">-1.5</text>
<text x="177" y="10.4" font-size="12.6" text-anchor="start" font-weight="bold" fill="#000" stroke="#000" stroke-width="0.3" textLength="13.4" lengthAdjust="spacingAndGlyphs">(c)</text>
<text x="261.8" y="15.6" font-size="9.3" text-anchor="start" font-weight="bold" fill="#000" stroke="#000" stroke-width="0.3" textLength="30.9" lengthAdjust="spacingAndGlyphs">T = 3 K</text>
<rect x="304.05" y="6.95" width="2.7" height="2.7" fill="none" stroke="#000" stroke-width="0.8"/>
<text x="341.8" y="10.6" font-size="8.3" text-anchor="end" font-weight="bold" fill="#000" stroke="#000" stroke-width="0.3">10 nm</text>
<circle cx="305.4" cy="19.02" r="1.35" fill="none" stroke="#ff0000" stroke-width="0.8"/>
<text x="341.8" y="21.32" font-size="8.3" text-anchor="end" font-weight="bold" fill="#000" stroke="#000" stroke-width="0.3">30 nm</text>
<path d="M305.4 28.26 L306.82 30.75 L303.98 30.75Z" fill="none" stroke="#0000ff" stroke-width="0.8" stroke-linejoin="miter"/>
<text x="341.8" y="32.04" font-size="8.3" text-anchor="end" font-weight="bold" fill="#000" stroke="#000" stroke-width="0.3">45 nm</text>
<path d="M305.4 41.95 L306.82 39.45 L303.98 39.45Z" fill="none" stroke="#ff00ff" stroke-width="0.8" stroke-linejoin="miter"/>
<text x="341.8" y="42.76" font-size="8.3" text-anchor="end" font-weight="bold" fill="#000" stroke="#000" stroke-width="0.3">74 nm</text>
<path d="M305.4 49.63 L306.68 51.18 L305.4 52.73 L304.12 51.18Z" fill="none" stroke="#008000" stroke-width="0.8" stroke-linejoin="miter"/>
<text x="341.8" y="53.48" font-size="8.3" text-anchor="end" font-weight="bold" fill="#000" stroke="#000" stroke-width="0.3">125 nm</text>
<text x="268.9" y="127.6" font-size="8" text-anchor="start" font-weight="bold" fill="#000" stroke="#000" stroke-width="0.3" textLength="4.3" lengthAdjust="spacingAndGlyphs">B</text>
<text x="276.3" y="127.4" font-size="7.8" text-anchor="start" font-weight="bold" fill="#000" stroke="#000" stroke-width="0.3" textLength="9.6" lengthAdjust="spacingAndGlyphs">(T)</text>
<text transform="translate(188.3 72.3) rotate(-90)" font-size="7" font-weight="bold" fill="#000" text-anchor="start" stroke="#000" stroke-width="0.3" textLength="5" lengthAdjust="spacingAndGlyphs">R</text>
<text transform="translate(191.6 67.1) rotate(-90)" font-size="7" font-weight="bold" fill="#000" text-anchor="start" stroke="#000" stroke-width="0.3" textLength="8.9" lengthAdjust="spacingAndGlyphs">xy</text>
<text transform="translate(187.4 54.9) rotate(-90)" font-size="5.6" font-weight="normal" fill="#000" text-anchor="start" stroke="#000" stroke-width="0.5" textLength="9" lengthAdjust="spacingAndGlyphs">(&#937;)</text>
<path d="M47 145.5 L53.3 166 L59.3 182.8 L65.3 196.8 L71.8 208.5" fill="none" stroke="#ff0000" stroke-width="1.05" stroke-linejoin="round" stroke-linecap="round"/>
<path d="M37.3 195.99 L38.3 197.26 L39.3 198.52 L40.3 199.75 L41.3 200.96 L42.3 202.15 L43.3 203.32 L44.3 204.47 L45.3 205.6 L46.3 206.71 L47.3 207.8 L48.3 208.86 L49.3 209.91 L50.3 210.93 L51.3 211.93 L52.3 212.91 L53.3 213.87 L54.3 214.81 L55.3 215.73 L56.3 216.63 L57.3 217.51 L58.3 218.36 L59.3 219.2 L60.3 220.01 L61.3 220.8 L62.3 221.57 L63.3 222.32 L64.3 223.05 L65.3 223.76 L66.3 224.45 L67.3 225.11 L68.3 225.76 L69.3 226.38 L70.3 226.99 L71.3 227.57 L72.3 228.13 L73.3 228.67 L74.3 229.19 L75.3 229.69 L76.3 230.17 L77.3 230.62" fill="none" stroke="#ff0000" stroke-width="1.05" stroke-linejoin="round" stroke-linecap="round"/>
<path d="M37.3 200.92 L38.3 202.2 L39.3 203.45 L40.3 204.68 L41.3 205.88 L42.3 207.07 L43.3 208.23 L44.3 209.37 L45.3 210.48 L46.3 211.58 L47.3 212.65 L48.3 213.7 L49.3 214.72 L50.3 215.73 L51.3 216.71 L52.3 217.67 L53.3 218.6 L54.3 219.52 L55.3 220.41 L56.3 221.28 L57.3 222.12 L58.3 222.95 L59.3 223.75 L60.3 224.53 L61.3 225.28 L62.3 226.01 L63.3 226.73 L64.3 227.41 L65.3 228.08 L66.3 228.72 L67.3 229.34 L68.3 229.94 L69.3 230.52 L70.3 231.07 L71.3 231.6 L72.3 232.11 L73.3 232.6 L74.3 233.06 L75.3 233.5 L76.3 233.92 L77.3 234.31" fill="none" stroke="#ff0000" stroke-width="1.05" stroke-linejoin="round" stroke-linecap="round"/>
<path d="M36.8 209.37 L37.8 210.5 L38.8 211.6 L39.8 212.68 L40.8 213.73 L41.8 214.76 L42.8 215.77 L43.8 216.75 L44.8 217.71 L45.8 218.64 L46.8 219.55 L47.8 220.43 L48.8 221.29 L49.8 222.12 L50.8 222.93 L51.8 223.72 L52.8 224.48 L53.8 225.21 L54.8 225.92 L55.8 226.61 L56.8 227.27 L57.8 227.91 L58.8 228.53 L59.8 229.11 L60.8 229.68 L61.8 230.22 L62.8 230.73 L63.8 231.23 L64.8 231.69 L65.8 232.13 L66.8 232.55 L67.8 232.94 L68.8 233.31 L69.8 233.66 L70.8 233.98 L71.8 234.27 L72.8 234.54 L73.8 234.79 L74.8 235.01 L75.8 235.21 L76.8 235.38 L77.8 235.53" fill="none" stroke="#ff0000" stroke-width="1.05" stroke-linejoin="round" stroke-linecap="round"/>
<path d="M47.1 219.27 L48.1 219.79 L49.1 220.3 L50.1 220.81 L51.1 221.32 L52.1 221.83 L53.1 222.33 L54.1 222.83 L55.1 223.32 L56.1 223.82 L57.1 224.31 L58.1 224.79 L59.1 225.28 L60.1 225.76 L61.1 226.24 L62.1 226.71 L63.1 227.18 L64.1 227.65 L65.1 228.11 L66.1 228.58 L67.1 229.04 L68.1 229.49 L69.1 229.94 L70.1 230.39 L71.1 230.84 L72.1 231.28 L73.1 231.72 L74.1 232.16 L75.1 232.6 L76.1 233.03 L77.1 233.46" fill="none" stroke="#ff0000" stroke-width="1.05" stroke-linejoin="round" stroke-linecap="round"/>
<rect x="45.45" y="143.95" width="3.1" height="3.1" fill="none" stroke="#000" stroke-width="0.8"/>
<rect x="51.75" y="164.45" width="3.1" height="3.1" fill="none" stroke="#000" stroke-width="0.8"/>
<rect x="57.75" y="181.25" width="3.1" height="3.1" fill="none" stroke="#000" stroke-width="0.8"/>
<rect x="63.75" y="195.25" width="3.1" height="3.1" fill="none" stroke="#000" stroke-width="0.8"/>
<rect x="70.25" y="206.95" width="3.1" height="3.1" fill="none" stroke="#000" stroke-width="0.8"/>
<rect x="76.55" y="216.55" width="3.1" height="3.1" fill="none" stroke="#000" stroke-width="0.8"/>
<rect x="82.75" y="223.35" width="3.1" height="3.1" fill="none" stroke="#000" stroke-width="0.8"/>
<rect x="89.15" y="229.05" width="3.1" height="3.1" fill="none" stroke="#000" stroke-width="0.8"/>
<rect x="95.65" y="232.45" width="3.1" height="3.1" fill="none" stroke="#000" stroke-width="0.8"/>
<rect x="102.45" y="235.05" width="3.1" height="3.1" fill="none" stroke="#000" stroke-width="0.8"/>
<rect x="109.25" y="236.25" width="3.1" height="3.1" fill="none" stroke="#000" stroke-width="0.8"/>
<rect x="115.95" y="236.45" width="3.1" height="3.1" fill="none" stroke="#000" stroke-width="0.8"/>
<rect x="122.45" y="235.45" width="3.1" height="3.1" fill="none" stroke="#000" stroke-width="0.8"/>
<rect x="131.85" y="231.55" width="3.1" height="3.1" fill="none" stroke="#000" stroke-width="0.8"/>
<rect x="138.65" y="228.45" width="3.1" height="3.1" fill="none" stroke="#000" stroke-width="0.8"/>
<rect x="145.45" y="225.25" width="3.1" height="3.1" fill="none" stroke="#000" stroke-width="0.8"/>
<rect x="152.25" y="220.05" width="3.1" height="3.1" fill="none" stroke="#000" stroke-width="0.8"/>
<rect x="158.65" y="215.45" width="3.1" height="3.1" fill="none" stroke="#000" stroke-width="0.8"/>
<rect x="164.45" y="209.95" width="3.1" height="3.1" fill="none" stroke="#000" stroke-width="0.8"/>
<rect x="170.45" y="204.45" width="3.1" height="3.1" fill="none" stroke="#000" stroke-width="0.8"/>
<circle cx="37.3" cy="200.9" r="1.85" fill="none" stroke="#ff0000" stroke-width="0.8"/>
<circle cx="50.4" cy="215.9" r="1.85" fill="none" stroke="#ff0000" stroke-width="0.8"/>
<circle cx="63.8" cy="227" r="1.85" fill="none" stroke="#ff0000" stroke-width="0.8"/>
<circle cx="77.2" cy="234.3" r="1.85" fill="none" stroke="#ff0000" stroke-width="0.8"/>
<circle cx="90.6" cy="237.2" r="1.85" fill="none" stroke="#ff0000" stroke-width="0.8"/>
<circle cx="104" cy="237.8" r="1.85" fill="none" stroke="#ff0000" stroke-width="0.8"/>
<circle cx="117.4" cy="236.8" r="1.85" fill="none" stroke="#ff0000" stroke-width="0.8"/>
<circle cx="130.8" cy="232.5" r="1.85" fill="none" stroke="#ff0000" stroke-width="0.8"/>
<circle cx="143.2" cy="225.8" r="1.85" fill="none" stroke="#ff0000" stroke-width="0.8"/>
<circle cx="157.2" cy="216.6" r="1.85" fill="none" stroke="#ff0000" stroke-width="0.8"/>
<circle cx="170.7" cy="207.6" r="1.85" fill="none" stroke="#ff0000" stroke-width="0.8"/>
<path d="M36.8 206.97 L38.74 210.39 L34.86 210.39Z" fill="none" stroke="#0000ff" stroke-width="0.8" stroke-linejoin="miter"/>
<path d="M43.3 214.87 L45.24 218.29 L41.36 218.29Z" fill="none" stroke="#0000ff" stroke-width="0.8" stroke-linejoin="miter"/>
<path d="M50.9 220.87 L52.84 224.29 L48.96 224.29Z" fill="none" stroke="#0000ff" stroke-width="0.8" stroke-linejoin="miter"/>
<path d="M57.6 225.66 L59.54 229.09 L55.66 229.09Z" fill="none" stroke="#0000ff" stroke-width="0.8" stroke-linejoin="miter"/>
<path d="M65.3 229.77 L67.24 233.19 L63.36 233.19Z" fill="none" stroke="#0000ff" stroke-width="0.8" stroke-linejoin="miter"/>
<path d="M72.1 232.27 L74.04 235.69 L70.16 235.69Z" fill="none" stroke="#0000ff" stroke-width="0.8" stroke-linejoin="miter"/>
<path d="M80.4 233.87 L82.34 237.29 L78.46 237.29Z" fill="none" stroke="#0000ff" stroke-width="0.8" stroke-linejoin="miter"/>
<path d="M87 234.56 L88.94 237.99 L85.06 237.99Z" fill="none" stroke="#0000ff" stroke-width="0.8" stroke-linejoin="miter"/>
<path d="M93.8 234.56 L95.74 237.99 L91.86 237.99Z" fill="none" stroke="#0000ff" stroke-width="0.8" stroke-linejoin="miter"/>
<path d="M103.3 234.66 L105.24 238.09 L101.36 238.09Z" fill="none" stroke="#0000ff" stroke-width="0.8" stroke-linejoin="miter"/>
<path d="M110.3 233.87 L112.24 237.29 L108.36 237.29Z" fill="none" stroke="#0000ff" stroke-width="0.8" stroke-linejoin="miter"/>
<path d="M116.9 231.97 L118.84 235.39 L114.96 235.39Z" fill="none" stroke="#0000ff" stroke-width="0.8" stroke-linejoin="miter"/>
<path d="M124.1 230.06 L126.04 233.49 L122.16 233.49Z" fill="none" stroke="#0000ff" stroke-width="0.8" stroke-linejoin="miter"/>
<path d="M131.5 227.56 L133.44 230.99 L129.56 230.99Z" fill="none" stroke="#0000ff" stroke-width="0.8" stroke-linejoin="miter"/>
<path d="M138.8 224.16 L140.74 227.59 L136.86 227.59Z" fill="none" stroke="#0000ff" stroke-width="0.8" stroke-linejoin="miter"/>
<path d="M146.3 219.56 L148.24 222.99 L144.36 222.99Z" fill="none" stroke="#0000ff" stroke-width="0.8" stroke-linejoin="miter"/>
<path d="M153.6 214.77 L155.54 218.19 L151.66 218.19Z" fill="none" stroke="#0000ff" stroke-width="0.8" stroke-linejoin="miter"/>
<path d="M160.9 209.47 L162.84 212.89 L158.96 212.89Z" fill="none" stroke="#0000ff" stroke-width="0.8" stroke-linejoin="miter"/>
<path d="M168.7 203.87 L170.64 207.29 L166.76 207.29Z" fill="none" stroke="#0000ff" stroke-width="0.8" stroke-linejoin="miter"/>
<path d="M37.3 197.73 L39.24 194.31 L35.36 194.31Z" fill="none" stroke="#ff00ff" stroke-width="0.8" stroke-linejoin="miter"/>
<path d="M46.6 209.63 L48.54 206.21 L44.66 206.21Z" fill="none" stroke="#ff00ff" stroke-width="0.8" stroke-linejoin="miter"/>
<path d="M56.2 218.53 L58.14 215.11 L54.26 215.11Z" fill="none" stroke="#ff00ff" stroke-width="0.8" stroke-linejoin="miter"/>
<path d="M66.8 226.34 L68.74 222.91 L64.86 222.91Z" fill="none" stroke="#ff00ff" stroke-width="0.8" stroke-linejoin="miter"/>
<path d="M76.7 232.63 L78.64 229.21 L74.76 229.21Z" fill="none" stroke="#ff00ff" stroke-width="0.8" stroke-linejoin="miter"/>
<path d="M87 236.94 L88.94 233.51 L85.06 233.51Z" fill="none" stroke="#ff00ff" stroke-width="0.8" stroke-linejoin="miter"/>
<path d="M97 239.03 L98.94 235.61 L95.06 235.61Z" fill="none" stroke="#ff00ff" stroke-width="0.8" stroke-linejoin="miter"/>
<path d="M107.2 240.63 L109.14 237.21 L105.26 237.21Z" fill="none" stroke="#ff00ff" stroke-width="0.8" stroke-linejoin="miter"/>
<path d="M117.3 241.63 L119.24 238.21 L115.36 238.21Z" fill="none" stroke="#ff00ff" stroke-width="0.8" stroke-linejoin="miter"/>
<path d="M127.5 240.23 L129.44 236.81 L125.56 236.81Z" fill="none" stroke="#ff00ff" stroke-width="0.8" stroke-linejoin="miter"/>
<path d="M137.6 236.84 L139.54 233.41 L135.66 233.41Z" fill="none" stroke="#ff00ff" stroke-width="0.8" stroke-linejoin="miter"/>
<path d="M147.8 233.44 L149.74 230.01 L145.86 230.01Z" fill="none" stroke="#ff00ff" stroke-width="0.8" stroke-linejoin="miter"/>
<path d="M158 227.53 L159.94 224.11 L156.06 224.11Z" fill="none" stroke="#ff00ff" stroke-width="0.8" stroke-linejoin="miter"/>
<path d="M168.2 222.44 L170.14 219.01 L166.26 219.01Z" fill="none" stroke="#ff00ff" stroke-width="0.8" stroke-linejoin="miter"/>
<path d="M47.1 217.27 L48.86 219.4 L47.1 221.53 L45.34 219.4Z" fill="none" stroke="#008000" stroke-width="0.8" stroke-linejoin="miter"/>
<path d="M54.6 220.47 L56.36 222.6 L54.6 224.73 L52.84 222.6Z" fill="none" stroke="#008000" stroke-width="0.8" stroke-linejoin="miter"/>
<path d="M62.3 225.17 L64.06 227.3 L62.3 229.43 L60.54 227.3Z" fill="none" stroke="#008000" stroke-width="0.8" stroke-linejoin="miter"/>
<path d="M68.3 227.67 L70.06 229.8 L68.3 231.93 L66.54 229.8Z" fill="none" stroke="#008000" stroke-width="0.8" stroke-linejoin="miter"/>
<path d="M74.2 229.47 L75.96 231.6 L74.2 233.73 L72.44 231.6Z" fill="none" stroke="#008000" stroke-width="0.8" stroke-linejoin="miter"/>
<path d="M80.2 232.87 L81.96 235 L80.2 237.13 L78.44 235Z" fill="none" stroke="#008000" stroke-width="0.8" stroke-linejoin="miter"/>
<path d="M87 234.17 L88.76 236.3 L87 238.43 L85.24 236.3Z" fill="none" stroke="#008000" stroke-width="0.8" stroke-linejoin="miter"/>
<path d="M93.5 234.67 L95.26 236.8 L93.5 238.93 L91.74 236.8Z" fill="none" stroke="#008000" stroke-width="0.8" stroke-linejoin="miter"/>
<path d="M100 234.87 L101.76 237 L100 239.13 L98.24 237Z" fill="none" stroke="#008000" stroke-width="0.8" stroke-linejoin="miter"/>
<path d="M106.5 234.87 L108.26 237 L106.5 239.13 L104.74 237Z" fill="none" stroke="#008000" stroke-width="0.8" stroke-linejoin="miter"/>
<path d="M113 234.47 L114.76 236.6 L113 238.73 L111.24 236.6Z" fill="none" stroke="#008000" stroke-width="0.8" stroke-linejoin="miter"/>
<path d="M119.5 233.47 L121.26 235.6 L119.5 237.73 L117.74 235.6Z" fill="none" stroke="#008000" stroke-width="0.8" stroke-linejoin="miter"/>
<path d="M126 231.87 L127.76 234 L126 236.13 L124.24 234Z" fill="none" stroke="#008000" stroke-width="0.8" stroke-linejoin="miter"/>
<path d="M133 230.17 L134.76 232.3 L133 234.43 L131.24 232.3Z" fill="none" stroke="#008000" stroke-width="0.8" stroke-linejoin="miter"/>
<path d="M140.2 228.07 L141.96 230.2 L140.2 232.33 L138.44 230.2Z" fill="none" stroke="#008000" stroke-width="0.8" stroke-linejoin="miter"/>
<path d="M147 225.07 L148.76 227.2 L147 229.33 L145.24 227.2Z" fill="none" stroke="#008000" stroke-width="0.8" stroke-linejoin="miter"/>
<path d="M152.4 221.67 L154.16 223.8 L152.4 225.93 L150.64 223.8Z" fill="none" stroke="#008000" stroke-width="0.8" stroke-linejoin="miter"/>
<path d="M159.2 218.57 L160.96 220.7 L159.2 222.83 L157.44 220.7Z" fill="none" stroke="#008000" stroke-width="0.8" stroke-linejoin="miter"/>
<path d="M165.7 213.47 L167.46 215.6 L165.7 217.73 L163.94 215.6Z" fill="none" stroke="#008000" stroke-width="0.8" stroke-linejoin="miter"/>
<path d="M171.6 208.87 L173.36 211 L171.6 213.13 L169.84 211Z" fill="none" stroke="#008000" stroke-width="0.8" stroke-linejoin="miter"/>
<rect x="32.3" y="134.8" width="140.3" height="111.3" fill="none" stroke="#000" stroke-width="1.1"/>
<line x1="32.3" y1="246.1" x2="32.3" y2="243.1" stroke="#000" stroke-width="0.9"/>
<line x1="72.36" y1="246.1" x2="72.36" y2="243.1" stroke="#000" stroke-width="0.9"/>
<line x1="112.42" y1="246.1" x2="112.42" y2="243.1" stroke="#000" stroke-width="0.9"/>
<line x1="152.48" y1="246.1" x2="152.48" y2="243.1" stroke="#000" stroke-width="0.9"/>
<line x1="52.33" y1="246.1" x2="52.33" y2="244.5" stroke="#000" stroke-width="0.9"/>
<line x1="92.39" y1="246.1" x2="92.39" y2="244.5" stroke="#000" stroke-width="0.9"/>
<line x1="132.45" y1="246.1" x2="132.45" y2="244.5" stroke="#000" stroke-width="0.9"/>
<line x1="172.51" y1="246.1" x2="172.51" y2="244.5" stroke="#000" stroke-width="0.9"/>
<line x1="32.3" y1="237.9" x2="35.3" y2="237.9" stroke="#000" stroke-width="0.9"/>
<line x1="32.3" y1="221.4" x2="35.3" y2="221.4" stroke="#000" stroke-width="0.9"/>
<line x1="32.3" y1="204.9" x2="35.3" y2="204.9" stroke="#000" stroke-width="0.9"/>
<line x1="32.3" y1="188.4" x2="35.3" y2="188.4" stroke="#000" stroke-width="0.9"/>
<line x1="32.3" y1="171.9" x2="35.3" y2="171.9" stroke="#000" stroke-width="0.9"/>
<line x1="32.3" y1="155.4" x2="35.3" y2="155.4" stroke="#000" stroke-width="0.9"/>
<line x1="32.3" y1="138.9" x2="35.3" y2="138.9" stroke="#000" stroke-width="0.9"/>
<line x1="32.3" y1="229.65" x2="33.9" y2="229.65" stroke="#000" stroke-width="0.9"/>
<line x1="32.3" y1="213.15" x2="33.9" y2="213.15" stroke="#000" stroke-width="0.9"/>
<line x1="32.3" y1="196.65" x2="33.9" y2="196.65" stroke="#000" stroke-width="0.9"/>
<line x1="32.3" y1="180.15" x2="33.9" y2="180.15" stroke="#000" stroke-width="0.9"/>
<line x1="32.3" y1="163.65" x2="33.9" y2="163.65" stroke="#000" stroke-width="0.9"/>
<line x1="32.3" y1="147.15" x2="33.9" y2="147.15" stroke="#000" stroke-width="0.9"/>
<text x="32.3" y="256.4" font-size="7.4" text-anchor="middle" font-weight="bold" fill="#000" stroke="#000" stroke-width="0.3">2</text>
<text x="72.36" y="256.4" font-size="7.4" text-anchor="middle" font-weight="bold" fill="#000" stroke="#000" stroke-width="0.3">4</text>
<text x="112.42" y="256.4" font-size="7.4" text-anchor="middle" font-weight="bold" fill="#000" stroke="#000" stroke-width="0.3">6</text>
<text x="152.48" y="256.4" font-size="7.4" text-anchor="middle" font-weight="bold" fill="#000" stroke="#000" stroke-width="0.3">8</text>
<text x="29" y="240.5" font-size="7.4" text-anchor="end" font-weight="bold" fill="#000" stroke="#000" stroke-width="0.3">0</text>
<text x="29" y="224" font-size="7.4" text-anchor="end" font-weight="bold" fill="#000" stroke="#000" stroke-width="0.3">2</text>
<text x="29" y="207.5" font-size="7.4" text-anchor="end" font-weight="bold" fill="#000" stroke="#000" stroke-width="0.3">4</text>
<text x="29" y="191" font-size="7.4" text-anchor="end" font-weight="bold" fill="#000" stroke="#000" stroke-width="0.3">6</text>
<text x="29" y="174.5" font-size="7.4" text-anchor="end" font-weight="bold" fill="#000" stroke="#000" stroke-width="0.3">8</text>
<text x="29" y="158" font-size="7.4" text-anchor="end" font-weight="bold" fill="#000" stroke="#000" stroke-width="0.3">10</text>
<text x="29" y="141.5" font-size="7.4" text-anchor="end" font-weight="bold" fill="#000" stroke="#000" stroke-width="0.3">12</text>
<text x="0.6" y="144.1" font-size="12.4" text-anchor="start" font-weight="bold" fill="#000" stroke="#000" stroke-width="0.3" textLength="14.1" lengthAdjust="spacingAndGlyphs">(b)</text>
<text x="86.9" y="262.6" font-size="7.4" text-anchor="start" font-weight="bold" fill="#000" stroke="#000" stroke-width="0.3" textLength="4.1" lengthAdjust="spacingAndGlyphs">T</text>
<text x="96.2" y="262.6" font-size="7.4" text-anchor="start" font-weight="bold" fill="#000" stroke="#000" stroke-width="0.3" textLength="10.4" lengthAdjust="spacingAndGlyphs">(K)</text>
<text transform="translate(16.7 221.3) rotate(-90)" font-size="8" font-weight="bold" fill="#000" text-anchor="start" stroke="#000" stroke-width="0.3" textLength="13.4" lengthAdjust="spacingAndGlyphs">&#916;R</text>
<rect x="16.6" y="206.2" width="3.2" height="3.2" fill="none" stroke="#000" stroke-width="0.75"/>
<text transform="translate(16.7 207.6) rotate(-90)" font-size="8" font-weight="bold" fill="#000" text-anchor="start" stroke="#000" stroke-width="0.3" textLength="11.6" lengthAdjust="spacingAndGlyphs">/R</text>
<rect x="16.6" y="192.4" width="3.2" height="3.2" fill="none" stroke="#000" stroke-width="0.75"/>
<text transform="translate(20.4 192.3) rotate(-90)" font-size="6.2" font-weight="bold" fill="#000" text-anchor="start" stroke="#000" stroke-width="0.3" textLength="10.2" lengthAdjust="spacingAndGlyphs">,min</text>
<text transform="translate(16.6 177.2) rotate(-90)" font-size="8" font-weight="bold" fill="#000" text-anchor="start" stroke="#000" stroke-width="0.3" textLength="2.6" lengthAdjust="spacingAndGlyphs">(</text>
<text transform="translate(16.3 172.4) rotate(-90)" font-size="7.4" font-weight="bold" fill="#000" text-anchor="start" stroke="#000" stroke-width="0.3" textLength="6.6" lengthAdjust="spacingAndGlyphs">10</text>
<text transform="translate(11 161.6) rotate(-90)" font-size="6.4" font-weight="bold" fill="#000" text-anchor="start" stroke="#000" stroke-width="0.3">4</text>
<line x1="9" y1="162.6" x2="9" y2="164.4" stroke="#000" stroke-width="0.9"/>
<text transform="translate(16.6 157.2) rotate(-90)" font-size="8" font-weight="bold" fill="#000" text-anchor="start" stroke="#000" stroke-width="0.3" textLength="2.6" lengthAdjust="spacingAndGlyphs">)</text>
<line x1="99.7" y1="134.8" x2="99.7" y2="195.2" stroke="#000" stroke-width="1.1"/>
<line x1="99.7" y1="195.2" x2="172.6" y2="195.2" stroke="#000" stroke-width="1.1"/>
<line x1="99.7" y1="189.9" x2="102.3" y2="189.9" stroke="#000" stroke-width="0.9"/>
<line x1="99.7" y1="177.8" x2="102.3" y2="177.8" stroke="#000" stroke-width="0.9"/>
<line x1="99.7" y1="165.7" x2="102.3" y2="165.7" stroke="#000" stroke-width="0.9"/>
<line x1="99.7" y1="153.6" x2="102.3" y2="153.6" stroke="#000" stroke-width="0.9"/>
<line x1="99.7" y1="141.5" x2="102.3" y2="141.5" stroke="#000" stroke-width="0.9"/>
<line x1="99.7" y1="183.85" x2="101.1" y2="183.85" stroke="#000" stroke-width="0.9"/>
<line x1="99.7" y1="171.75" x2="101.1" y2="171.75" stroke="#000" stroke-width="0.9"/>
<line x1="99.7" y1="159.65" x2="101.1" y2="159.65" stroke="#000" stroke-width="0.9"/>
<line x1="99.7" y1="147.55" x2="101.1" y2="147.55" stroke="#000" stroke-width="0.9"/>
<line x1="110.5" y1="195.2" x2="110.5" y2="192.6" stroke="#000" stroke-width="0.9"/>
<line x1="124.5" y1="195.2" x2="124.5" y2="192.6" stroke="#000" stroke-width="0.9"/>
<line x1="138.5" y1="195.2" x2="138.5" y2="192.6" stroke="#000" stroke-width="0.9"/>
<line x1="152.5" y1="195.2" x2="152.5" y2="192.6" stroke="#000" stroke-width="0.9"/>
<line x1="166.5" y1="195.2" x2="166.5" y2="192.6" stroke="#000" stroke-width="0.9"/>
<line x1="103.5" y1="195.2" x2="103.5" y2="193.8" stroke="#000" stroke-width="0.9"/>
<line x1="117.5" y1="195.2" x2="117.5" y2="193.8" stroke="#000" stroke-width="0.9"/>
<line x1="131.5" y1="195.2" x2="131.5" y2="193.8" stroke="#000" stroke-width="0.9"/>
<line x1="145.5" y1="195.2" x2="145.5" y2="193.8" stroke="#000" stroke-width="0.9"/>
<line x1="159.5" y1="195.2" x2="159.5" y2="193.8" stroke="#000" stroke-width="0.9"/>
<line x1="100.7" y1="165.7" x2="169.5" y2="165.7" stroke="#333" stroke-width="1" stroke-dasharray="3 2.2"/>
<path d="M102.1 151.66 L113.3 145.37 L121.7 161.1 L137.94 169.33 L166.5 187.48" fill="none" stroke="#a0191c" stroke-width="1" stroke-linejoin="round" stroke-linecap="round"/>
<circle cx="102.1" cy="151.66" r="1.5" fill="#a0191c"/>
<circle cx="113.3" cy="145.37" r="1.5" fill="#a0191c"/>
<circle cx="121.7" cy="161.1" r="1.5" fill="#a0191c"/>
<circle cx="137.94" cy="169.33" r="1.5" fill="#a0191c"/>
<circle cx="166.5" cy="187.48" r="1.5" fill="#a0191c"/>
<text x="97" y="143.9" font-size="7.3" text-anchor="end" font-weight="bold" fill="#000" stroke="#000" stroke-width="0.3">1.0</text>
<text x="97" y="156" font-size="7.3" text-anchor="end" font-weight="bold" fill="#000" stroke="#000" stroke-width="0.3">0.5</text>
<text x="97" y="168.1" font-size="7.3" text-anchor="end" font-weight="bold" fill="#000" stroke="#000" stroke-width="0.3">0.0</text>
<text x="97" y="180.2" font-size="7.3" text-anchor="end" font-weight="bold" fill="#000" stroke="#000" stroke-width="0.3">-0.5</text>
<text x="97" y="192.3" font-size="7.3" text-anchor="end" font-weight="bold" fill="#000" stroke="#000" stroke-width="0.3">-1.0</text>
<text x="110.5" y="202.1" font-size="6.4" text-anchor="middle" font-weight="bold" fill="#000" stroke="#000" stroke-width="0.3">25</text>
<text x="124.5" y="202.1" font-size="6.4" text-anchor="middle" font-weight="bold" fill="#000" stroke="#000" stroke-width="0.3">50</text>
<text x="138.5" y="202.1" font-size="6.4" text-anchor="middle" font-weight="bold" fill="#000" stroke="#000" stroke-width="0.3">75</text>
<text x="152.5" y="202.1" font-size="6.4" text-anchor="middle" font-weight="bold" fill="#000" stroke="#000" stroke-width="0.3">100</text>
<text x="166.5" y="202.1" font-size="6.4" text-anchor="middle" font-weight="bold" fill="#000" stroke="#000" stroke-width="0.3">125</text>
<text transform="translate(84.6 168.1) rotate(-90)" font-size="10.2" font-weight="bold" fill="#000" text-anchor="start" stroke="#000" stroke-width="0.3" textLength="5.6" lengthAdjust="spacingAndGlyphs">F</text>
<text x="123.5" y="209.8" font-size="7.6" text-anchor="start" font-weight="bold" fill="#000" stroke="#000" stroke-width="0.3" textLength="2.8" lengthAdjust="spacingAndGlyphs">t</text>
<text x="131.4" y="209.8" font-size="7.4" text-anchor="start" font-weight="bold" fill="#000" stroke="#000" stroke-width="0.3" textLength="19.5" lengthAdjust="spacingAndGlyphs">(nm)</text>
<line x1="207.5" y1="134.8" x2="337.3" y2="134.8" stroke="#000" stroke-width="1.1"/>
<line x1="207.5" y1="134.15" x2="207.5" y2="245.55" stroke="#000" stroke-width="1.1"/>
<line x1="207.5" y1="244.9" x2="337.3" y2="244.9" stroke="#000" stroke-width="1.1"/>
<line x1="337.3" y1="134.15" x2="337.3" y2="245.55" stroke="#3838b8" stroke-width="1.2"/>
<line x1="207.5" y1="244.9" x2="207.5" y2="241.9" stroke="#000" stroke-width="0.9"/>
<line x1="207.5" y1="134.8" x2="207.5" y2="137.8" stroke="#000" stroke-width="0.9"/>
<line x1="226.07" y1="244.9" x2="226.07" y2="241.9" stroke="#000" stroke-width="0.9"/>
<line x1="226.07" y1="134.8" x2="226.07" y2="137.8" stroke="#000" stroke-width="0.9"/>
<line x1="244.64" y1="244.9" x2="244.64" y2="241.9" stroke="#000" stroke-width="0.9"/>
<line x1="244.64" y1="134.8" x2="244.64" y2="137.8" stroke="#000" stroke-width="0.9"/>
<line x1="263.22" y1="244.9" x2="263.22" y2="241.9" stroke="#000" stroke-width="0.9"/>
<line x1="263.22" y1="134.8" x2="263.22" y2="137.8" stroke="#000" stroke-width="0.9"/>
<line x1="281.79" y1="244.9" x2="281.79" y2="241.9" stroke="#000" stroke-width="0.9"/>
<line x1="281.79" y1="134.8" x2="281.79" y2="137.8" stroke="#000" stroke-width="0.9"/>
<line x1="300.36" y1="244.9" x2="300.36" y2="241.9" stroke="#000" stroke-width="0.9"/>
<line x1="300.36" y1="134.8" x2="300.36" y2="137.8" stroke="#000" stroke-width="0.9"/>
<line x1="318.93" y1="244.9" x2="318.93" y2="241.9" stroke="#000" stroke-width="0.9"/>
<line x1="318.93" y1="134.8" x2="318.93" y2="137.8" stroke="#000" stroke-width="0.9"/>
<line x1="337.5" y1="244.9" x2="337.5" y2="241.9" stroke="#000" stroke-width="0.9"/>
<line x1="337.5" y1="134.8" x2="337.5" y2="137.8" stroke="#000" stroke-width="0.9"/>
<line x1="216.79" y1="244.9" x2="216.79" y2="243.3" stroke="#000" stroke-width="0.9"/>
<line x1="216.79" y1="134.8" x2="216.79" y2="136.4" stroke="#000" stroke-width="0.9"/>
<line x1="235.36" y1="244.9" x2="235.36" y2="243.3" stroke="#000" stroke-width="0.9"/>
<line x1="235.36" y1="134.8" x2="235.36" y2="136.4" stroke="#000" stroke-width="0.9"/>
<line x1="253.93" y1="244.9" x2="253.93" y2="243.3" stroke="#000" stroke-width="0.9"/>
<line x1="253.93" y1="134.8" x2="253.93" y2="136.4" stroke="#000" stroke-width="0.9"/>
<line x1="272.5" y1="244.9" x2="272.5" y2="243.3" stroke="#000" stroke-width="0.9"/>
<line x1="272.5" y1="134.8" x2="272.5" y2="136.4" stroke="#000" stroke-width="0.9"/>
<line x1="291.07" y1="244.9" x2="291.07" y2="243.3" stroke="#000" stroke-width="0.9"/>
<line x1="291.07" y1="134.8" x2="291.07" y2="136.4" stroke="#000" stroke-width="0.9"/>
<line x1="309.65" y1="244.9" x2="309.65" y2="243.3" stroke="#000" stroke-width="0.9"/>
<line x1="309.65" y1="134.8" x2="309.65" y2="136.4" stroke="#000" stroke-width="0.9"/>
<line x1="328.22" y1="244.9" x2="328.22" y2="243.3" stroke="#000" stroke-width="0.9"/>
<line x1="328.22" y1="134.8" x2="328.22" y2="136.4" stroke="#000" stroke-width="0.9"/>
<line x1="207.5" y1="231.67" x2="210.5" y2="231.67" stroke="#000" stroke-width="0.9"/>
<line x1="207.5" y1="217.75" x2="210.5" y2="217.75" stroke="#000" stroke-width="0.9"/>
<line x1="207.5" y1="203.82" x2="210.5" y2="203.82" stroke="#000" stroke-width="0.9"/>
<line x1="207.5" y1="189.9" x2="210.5" y2="189.9" stroke="#000" stroke-width="0.9"/>
<line x1="207.5" y1="175.97" x2="210.5" y2="175.97" stroke="#000" stroke-width="0.9"/>
<line x1="207.5" y1="162.05" x2="210.5" y2="162.05" stroke="#000" stroke-width="0.9"/>
<line x1="207.5" y1="148.12" x2="210.5" y2="148.12" stroke="#000" stroke-width="0.9"/>
<line x1="207.5" y1="134.2" x2="210.5" y2="134.2" stroke="#000" stroke-width="0.9"/>
<line x1="207.5" y1="238.64" x2="209.1" y2="238.64" stroke="#000" stroke-width="0.9"/>
<line x1="207.5" y1="224.71" x2="209.1" y2="224.71" stroke="#000" stroke-width="0.9"/>
<line x1="207.5" y1="210.79" x2="209.1" y2="210.79" stroke="#000" stroke-width="0.9"/>
<line x1="207.5" y1="196.86" x2="209.1" y2="196.86" stroke="#000" stroke-width="0.9"/>
<line x1="207.5" y1="182.94" x2="209.1" y2="182.94" stroke="#000" stroke-width="0.9"/>
<line x1="207.5" y1="169.01" x2="209.1" y2="169.01" stroke="#000" stroke-width="0.9"/>
<line x1="207.5" y1="155.09" x2="209.1" y2="155.09" stroke="#000" stroke-width="0.9"/>
<line x1="207.5" y1="141.16" x2="209.1" y2="141.16" stroke="#000" stroke-width="0.9"/>
<line x1="337.3" y1="244.3" x2="334.3" y2="244.3" stroke="#3838b8" stroke-width="0.9"/>
<line x1="337.3" y1="214.9" x2="334.3" y2="214.9" stroke="#3838b8" stroke-width="0.9"/>
<line x1="337.3" y1="185.5" x2="334.3" y2="185.5" stroke="#3838b8" stroke-width="0.9"/>
<line x1="337.3" y1="156.1" x2="334.3" y2="156.1" stroke="#3838b8" stroke-width="0.9"/>
<line x1="337.3" y1="229.6" x2="335.7" y2="229.6" stroke="#3838b8" stroke-width="0.9"/>
<line x1="337.3" y1="200.2" x2="335.7" y2="200.2" stroke="#3838b8" stroke-width="0.9"/>
<line x1="337.3" y1="170.8" x2="335.7" y2="170.8" stroke="#3838b8" stroke-width="0.9"/>
<line x1="337.3" y1="141.4" x2="335.7" y2="141.4" stroke="#3838b8" stroke-width="0.9"/>
<defs><radialGradient id="gk" cx="0.38" cy="0.38" r="0.6"><stop offset="0" stop-color="#888"/><stop offset="0.3" stop-color="#222"/><stop offset="1" stop-color="#000"/></radialGradient><radialGradient id="gb" cx="0.38" cy="0.38" r="0.6"><stop offset="0" stop-color="#88f"/><stop offset="0.3" stop-color="#11f"/><stop offset="1" stop-color="#00c"/></radialGradient></defs>
<path d="M216.79 214.55 L235.36 182.1 L249.29 189.48 L276.22 195.89 L323.57 187.39" fill="none" stroke="#000" stroke-width="1.4" stroke-linejoin="round" stroke-linecap="round"/>
<path d="M216.79 176.39 L235.36 191.01 L249.29 194.83 L276.22 208.87 L323.57 201.89" fill="none" stroke="#0000ff" stroke-width="1.4" stroke-linejoin="round" stroke-linecap="round"/>
<circle cx="216.79" cy="214.55" r="2.1" fill="url(#gk)"/>
<circle cx="235.36" cy="182.1" r="2.1" fill="url(#gk)"/>
<circle cx="249.29" cy="189.48" r="2.1" fill="url(#gk)"/>
<circle cx="276.22" cy="195.89" r="2.1" fill="url(#gk)"/>
<circle cx="323.57" cy="187.39" r="2.1" fill="url(#gk)"/>
<circle cx="216.79" cy="176.39" r="2.1" fill="url(#gb)"/>
<circle cx="235.36" cy="191.01" r="2.1" fill="url(#gb)"/>
<circle cx="249.29" cy="194.83" r="2.1" fill="url(#gb)"/>
<circle cx="276.22" cy="208.87" r="2.1" fill="url(#gb)"/>
<circle cx="323.57" cy="201.89" r="2.1" fill="url(#gb)"/>
<line x1="214" y1="197" x2="224" y2="197" stroke="#000" stroke-width="1.2"/>
<path d="M210.6 197 L215.6 194.9 L215.6 199.1 Z" fill="#000"/>
<line x1="316.6" y1="208.8" x2="329" y2="208.8" stroke="#0000ff" stroke-width="1.2"/>
<path d="M333.0 208.8 L328.0 206.7 L328.0 210.9 Z" fill="#0000ff"/>
<text x="207.5" y="253.2" font-size="7" text-anchor="middle" font-weight="bold" fill="#000" stroke="#000" stroke-width="0.3">0</text>
<text x="226.07" y="253.2" font-size="7" text-anchor="middle" font-weight="bold" fill="#000" stroke="#000" stroke-width="0.3">20</text>
<text x="244.64" y="253.2" font-size="7" text-anchor="middle" font-weight="bold" fill="#000" stroke="#000" stroke-width="0.3">40</text>
<text x="263.22" y="253.2" font-size="7" text-anchor="middle" font-weight="bold" fill="#000" stroke="#000" stroke-width="0.3">60</text>
<text x="281.79" y="253.2" font-size="7" text-anchor="middle" font-weight="bold" fill="#000" stroke="#000" stroke-width="0.3">80</text>
<text x="300.36" y="253.2" font-size="7" text-anchor="middle" font-weight="bold" fill="#000" stroke="#000" stroke-width="0.3">100</text>
<text x="318.93" y="253.2" font-size="7" text-anchor="middle" font-weight="bold" fill="#000" stroke="#000" stroke-width="0.3">120</text>
<text x="337.5" y="253.2" font-size="7" text-anchor="middle" font-weight="bold" fill="#000" stroke="#000" stroke-width="0.3">140</text>
<text x="205.4" y="234.67" font-size="7.2" text-anchor="end" font-weight="bold" fill="#000" stroke="#000" stroke-width="0.3">10</text>
<text x="205.4" y="220.75" font-size="7.2" text-anchor="end" font-weight="bold" fill="#000" stroke="#000" stroke-width="0.3">20</text>
<text x="205.4" y="206.82" font-size="7.2" text-anchor="end" font-weight="bold" fill="#000" stroke="#000" stroke-width="0.3">30</text>
<text x="205.4" y="192.9" font-size="7.2" text-anchor="end" font-weight="bold" fill="#000" stroke="#000" stroke-width="0.3">40</text>
<text x="205.4" y="178.97" font-size="7.2" text-anchor="end" font-weight="bold" fill="#000" stroke="#000" stroke-width="0.3">50</text>
<text x="205.4" y="165.05" font-size="7.2" text-anchor="end" font-weight="bold" fill="#000" stroke="#000" stroke-width="0.3">60</text>
<text x="205.4" y="151.12" font-size="7.2" text-anchor="end" font-weight="bold" fill="#000" stroke="#000" stroke-width="0.3">70</text>
<text x="205.4" y="137.2" font-size="7.2" text-anchor="end" font-weight="bold" fill="#000" stroke="#000" stroke-width="0.3">80</text>
<text x="339.6" y="246.8" font-size="7" text-anchor="start" font-weight="bold" fill="#0000ff" stroke="#0000ff" stroke-width="0.3">0</text>
<text x="339.6" y="217.4" font-size="7" text-anchor="start" font-weight="bold" fill="#0000ff" stroke="#0000ff" stroke-width="0.3">4</text>
<text x="339.6" y="188" font-size="7" text-anchor="start" font-weight="bold" fill="#0000ff" stroke="#0000ff" stroke-width="0.3">8</text>
<text x="339.6" y="158.6" font-size="7" text-anchor="start" font-weight="bold" fill="#0000ff" stroke="#0000ff" stroke-width="0.3">12</text>
<text x="179.6" y="144.1" font-size="12.4" text-anchor="start" font-weight="bold" fill="#000" stroke="#000" stroke-width="0.3" textLength="15" lengthAdjust="spacingAndGlyphs">(d)</text>
<text x="288" y="152.6" font-size="9.3" text-anchor="start" font-weight="bold" fill="#000" stroke="#000" stroke-width="0.3" textLength="31.2" lengthAdjust="spacingAndGlyphs">T = 3 K</text>
<text x="244" y="262.6" font-size="7.8" text-anchor="start" font-weight="bold" fill="#000" stroke="#000" stroke-width="0.3" textLength="55.6" lengthAdjust="spacingAndGlyphs">Thickness (nm)</text>
<text transform="translate(194.2 205.6) rotate(-90)" font-size="8.6" font-weight="normal" fill="#000" text-anchor="start" stroke="#000" stroke-width="0.3" textLength="5" lengthAdjust="spacingAndGlyphs">&#956;</text>
<text transform="translate(194.6 200.6) rotate(-90)" font-size="8.6" font-weight="bold" fill="#000" text-anchor="start" stroke="#000" stroke-width="0.3" textLength="14.2" lengthAdjust="spacingAndGlyphs">(cm</text>
<text transform="translate(188.5 186.3) rotate(-90)" font-size="7" font-weight="bold" fill="#000" text-anchor="start" stroke="#000" stroke-width="0.3" textLength="4.3" lengthAdjust="spacingAndGlyphs">2</text>
<text transform="translate(195.1 182.5) rotate(-90)" font-size="8.6" font-weight="bold" fill="#000" text-anchor="start" stroke="#000" stroke-width="0.3" textLength="16.8" lengthAdjust="spacingAndGlyphs">/Vs)</text>
<text transform="translate(355.4 217.8) rotate(-90)" font-size="8.2" font-weight="bold" fill="#0000ff" text-anchor="start" stroke="#0000ff" stroke-width="0.3" textLength="18.9" lengthAdjust="spacingAndGlyphs">n (10</text>
<text transform="translate(351 198.9) rotate(-90)" font-size="7.4" font-weight="bold" fill="#0000ff" text-anchor="start" stroke="#0000ff" stroke-width="0.3" textLength="8.6" lengthAdjust="spacingAndGlyphs">20</text>
<text transform="translate(355.4 188.2) rotate(-90)" font-size="8.2" font-weight="bold" fill="#0000ff" text-anchor="start" stroke="#0000ff" stroke-width="0.3" textLength="16" lengthAdjust="spacingAndGlyphs">/cm</text>
<text transform="translate(350.5 172) rotate(-90)" font-size="7" font-weight="bold" fill="#0000ff" text-anchor="start" stroke="#0000ff" stroke-width="0.3" textLength="4.6" lengthAdjust="spacingAndGlyphs">3</text>
<text transform="translate(355.4 167.4) rotate(-90)" font-size="8.2" font-weight="bold" fill="#0000ff" text-anchor="start" stroke="#0000ff" stroke-width="0.3" textLength="2.9" lengthAdjust="spacingAndGlyphs">)</text>
</svg>
</body></html>
